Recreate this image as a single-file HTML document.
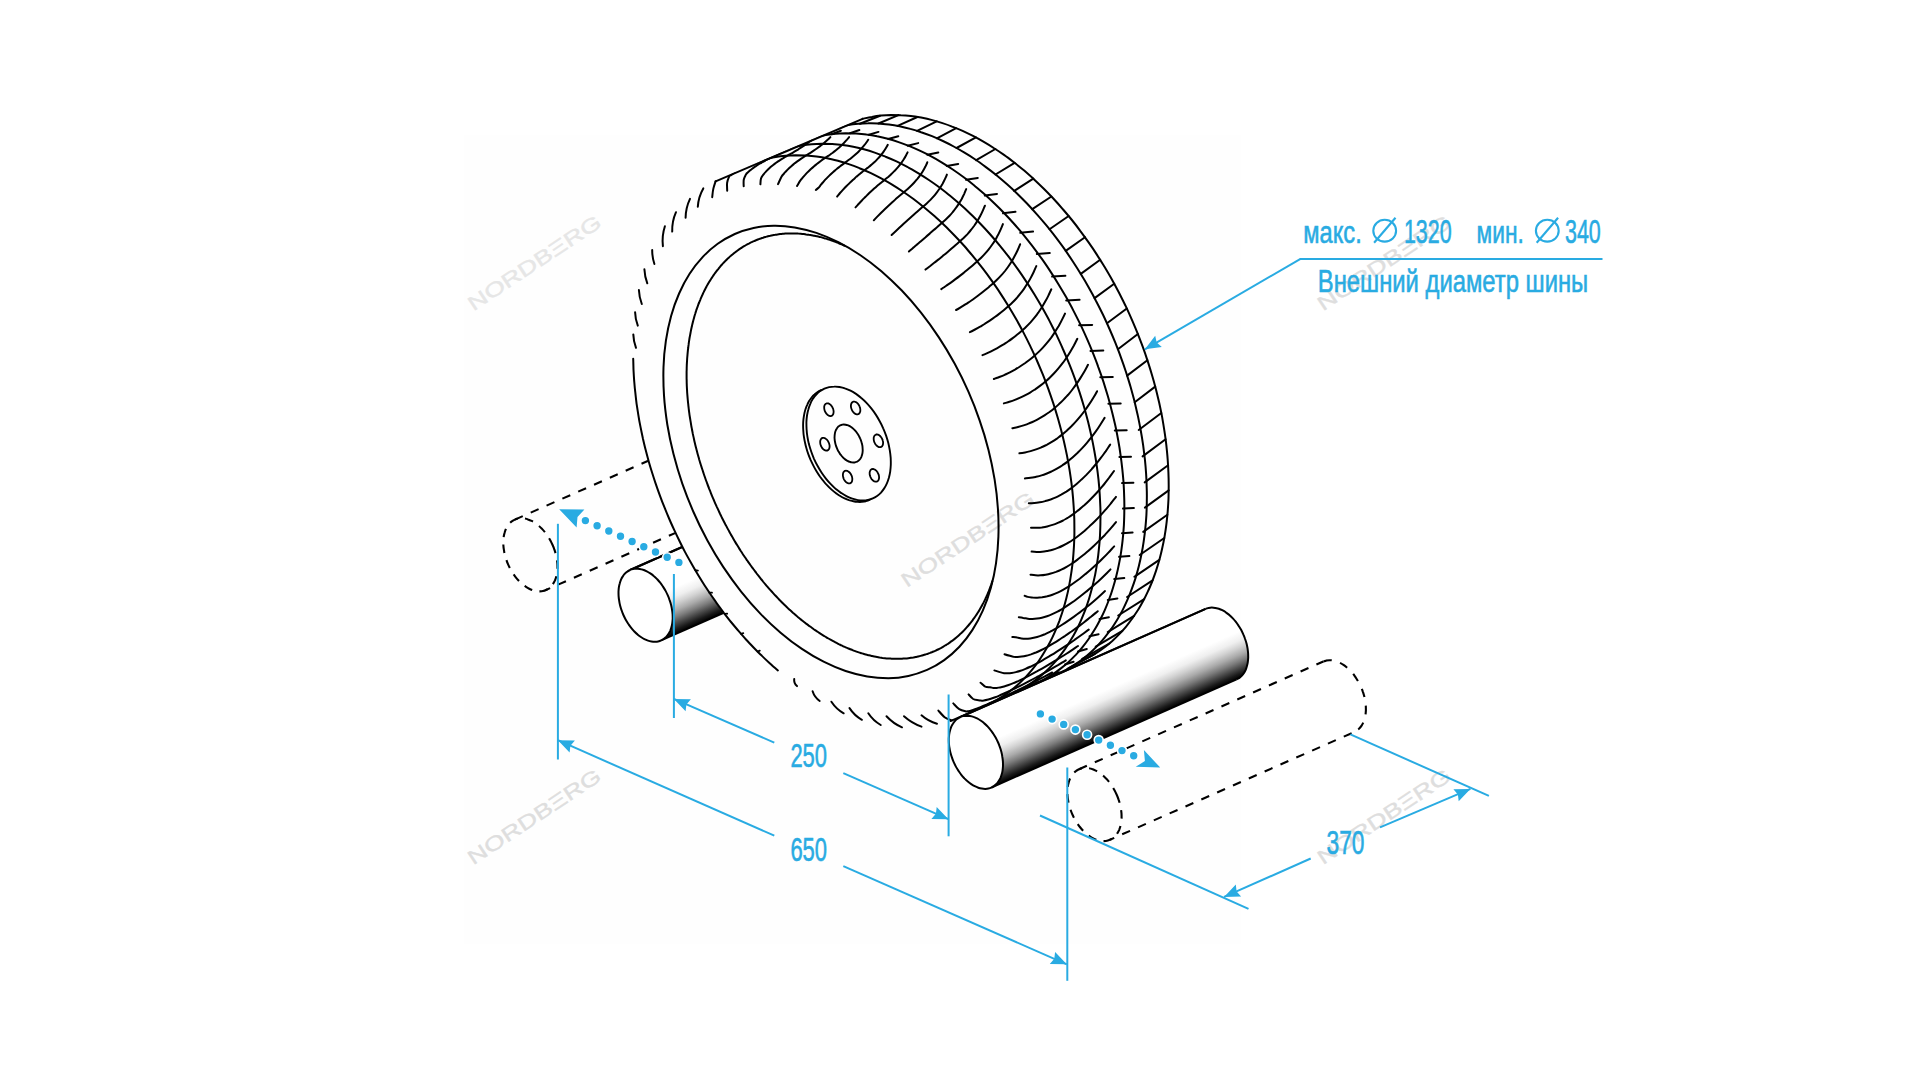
<!DOCTYPE html>
<html><head><meta charset="utf-8"><title>diagram</title>
<style>html,body{margin:0;padding:0;background:#fff;overflow:hidden;width:1920px;height:1080px;}svg{display:block;}</style></head>
<body>
<svg width="1920" height="1080" viewBox="0 0 1920 1080">
<rect width="1920" height="1080" fill="#fff"/>
<rect x="464" y="135" width="777" height="809" fill="#fefefe"/>
<defs><clipPath id="cpT"><path d="M0 484.6 L1920 -331.4 L1920 1080 L0 1080Z"/></clipPath></defs>
<path d="M514.9 519.6 L688.7 442.9" fill="none" stroke="#000" stroke-width="2.1" stroke-dasharray="8.6 8.7"/>
<path d="M545.9 590.0 L719.8 513.4" fill="none" stroke="#000" stroke-width="2.1" stroke-dasharray="8.6 8.7" stroke-dashoffset="4"/>
<path d="M552.6 545.0 C553.3 546.5 553.9 548.1 554.4 549.7 C555.0 551.3 555.5 552.9 555.9 554.5 C556.3 556.1 556.6 557.7 556.8 559.2 C557.1 560.8 557.3 562.4 557.4 563.9 C557.5 565.5 557.5 567.0 557.5 568.5 C557.4 570.0 557.3 571.4 557.1 572.8 C556.9 574.2 556.6 575.5 556.2 576.8 C555.9 578.1 555.4 579.3 555.0 580.4 C554.5 581.5 553.9 582.6 553.2 583.6 C552.6 584.6 551.9 585.5 551.2 586.3 C550.4 587.1 549.6 587.8 548.7 588.4 C547.8 589.1 546.9 589.6 545.9 590.0 C545.0 590.5 544.0 590.8 542.9 591.0 C541.9 591.2 540.8 591.3 539.7 591.4 C538.6 591.4 537.4 591.3 536.3 591.1 C535.1 590.9 533.9 590.6 532.8 590.2 C531.6 589.8 530.4 589.3 529.2 588.7 C528.0 588.1 526.9 587.4 525.7 586.6 C524.5 585.8 523.4 585.0 522.3 584.0 C521.1 583.1 520.0 582.0 518.9 580.9 C517.9 579.8 516.8 578.6 515.8 577.3 C514.8 576.1 513.9 574.7 513.0 573.4 C512.1 572.0 511.2 570.6 510.4 569.1 C509.6 567.6 508.9 566.1 508.2 564.6 C507.5 563.1 506.9 561.5 506.4 559.9 C505.8 558.3 505.3 556.7 504.9 555.1 C504.5 553.5 504.2 551.9 504.0 550.4 C503.7 548.8 503.5 547.2 503.4 545.7 C503.3 544.1 503.3 542.6 503.3 541.1 C503.4 539.6 503.5 538.2 503.7 536.8 C503.9 535.4 504.2 534.1 504.6 532.8 C504.9 531.5 505.4 530.3 505.8 529.2 C506.3 528.1 506.9 527.0 507.6 526.0 C508.2 525.0 508.9 524.1 509.6 523.3 C510.4 522.5 511.2 521.8 512.1 521.2 C513.0 520.5 513.9 520.0 514.9 519.6 C515.8 519.1 516.8 518.8 517.9 518.6 C518.9 518.4 520.0 518.3 521.1 518.2 C522.2 518.2 523.4 518.3 524.5 518.5 C525.7 518.7 526.9 519.0 528.0 519.4 C529.2 519.8 530.4 520.3 531.6 520.9 C532.8 521.5 533.9 522.2 535.1 523.0 C536.3 523.8 537.4 524.6 538.5 525.6 C539.7 526.5 540.8 527.6 541.9 528.7 C542.9 529.8 544.0 531.0 545.0 532.3 C546.0 533.5 546.9 534.9 547.8 536.2 C548.7 537.6 549.6 539.0 550.4 540.5 C551.2 542.0 551.9 543.5 552.6 545.0Z" fill="none" stroke="#000" stroke-width="2.1" stroke-dasharray="8.6 7.4"/>
<linearGradient id="gL" gradientUnits="userSpaceOnUse" x1="630.1" y1="570.0" x2="661.1" y2="640.4">
<stop offset="0" stop-color="#fff"/><stop offset="0.44" stop-color="#fff"/><stop offset="0.55" stop-color="#efefef"/><stop offset="0.63" stop-color="#d2d2d2"/><stop offset="0.72" stop-color="#aaaaaa"/><stop offset="0.8" stop-color="#7c7c7c"/><stop offset="0.88" stop-color="#464646"/><stop offset="0.95" stop-color="#181818"/><stop offset="1" stop-color="#000"/></linearGradient>
<path d="M630.1 570.0 L767.3 509.4 L770.3 508.5 L773.6 508.1 L777.0 508.4 L780.5 509.3 L784.0 510.8 L787.6 512.8 L791.0 515.5 L794.3 518.6 L797.4 522.1 L800.3 526.1 L802.8 530.4 L805.0 534.9 L806.9 539.6 L808.3 544.3 L809.3 549.1 L809.8 553.8 L809.9 558.3 L809.5 562.7 L808.7 566.7 L807.4 570.3 L805.7 573.5 L803.6 576.2 L801.1 578.3 L798.4 579.9 L661.1 640.4Z" fill="url(#gL)" stroke="none" stroke-width="2.0" />
<path d="M630.1 570.0 L767.3 509.4" fill="none" stroke="#000" stroke-width="2.0" />
<path d="M630.1 570.0 L767.3 509.4" fill="none" stroke="#000" stroke-width="2.0" />
<path d="M767.3 509.4 C767.8 509.3 769.3 508.7 770.3 508.5 C771.4 508.2 772.5 508.1 773.6 508.1 C774.7 508.1 775.8 508.2 777.0 508.4 C778.1 508.6 779.3 508.9 780.5 509.3 C781.7 509.7 782.9 510.2 784.0 510.8 C785.2 511.4 786.4 512.1 787.6 512.8 C788.7 513.6 789.9 514.5 791.0 515.5 C792.1 516.4 793.2 517.5 794.3 518.6 C795.4 519.7 796.4 520.9 797.4 522.1 C798.4 523.4 799.4 524.7 800.3 526.1 C801.2 527.5 802.0 528.9 802.8 530.4 C803.6 531.8 804.4 533.3 805.0 534.9 C805.7 536.4 806.3 538.0 806.9 539.6 C807.4 541.1 807.9 542.7 808.3 544.3 C808.7 545.9 809.0 547.5 809.3 549.1 C809.5 550.7 809.7 552.3 809.8 553.8 C809.9 555.3 810.0 556.9 809.9 558.3 C809.9 559.8 809.7 561.3 809.5 562.7 C809.3 564.0 809.0 565.4 808.7 566.7 C808.3 567.9 807.9 569.1 807.4 570.3 C806.9 571.4 806.3 572.5 805.7 573.5 C805.1 574.4 804.4 575.4 803.6 576.2 C802.8 577.0 802.0 577.7 801.1 578.3 C800.3 578.9 798.8 579.6 798.4 579.9" fill="none" stroke="#000" stroke-width="2.0" />
<path d="M798.4 579.9 L661.1 640.4" fill="none" stroke="#000" stroke-width="2.0" />
<path d="M667.8 595.4 C668.5 596.9 669.1 598.5 669.6 600.1 C670.2 601.7 670.7 603.3 671.1 604.9 C671.5 606.5 671.8 608.1 672.0 609.6 C672.3 611.2 672.5 612.8 672.6 614.3 C672.7 615.9 672.7 617.4 672.7 618.9 C672.6 620.4 672.5 621.8 672.3 623.2 C672.1 624.6 671.8 625.9 671.4 627.2 C671.1 628.5 670.6 629.7 670.2 630.8 C669.7 631.9 669.1 633.0 668.4 634.0 C667.8 635.0 667.1 635.9 666.4 636.7 C665.6 637.5 664.8 638.2 663.9 638.8 C663.0 639.5 662.1 640.0 661.1 640.4 C660.2 640.9 659.2 641.2 658.1 641.4 C657.1 641.6 656.0 641.7 654.9 641.8 C653.8 641.8 652.6 641.7 651.5 641.5 C650.3 641.3 649.1 641.0 648.0 640.6 C646.8 640.2 645.6 639.7 644.4 639.1 C643.2 638.5 642.1 637.8 640.9 637.0 C639.7 636.2 638.6 635.4 637.5 634.4 C636.3 633.5 635.2 632.4 634.1 631.3 C633.1 630.2 632.0 629.0 631.0 627.7 C630.0 626.5 629.1 625.1 628.2 623.8 C627.3 622.4 626.4 621.0 625.6 619.5 C624.8 618.0 624.1 616.5 623.4 615.0 C622.7 613.5 622.1 611.9 621.6 610.3 C621.0 608.7 620.5 607.1 620.1 605.5 C619.7 603.9 619.4 602.3 619.2 600.8 C618.9 599.2 618.7 597.6 618.6 596.1 C618.5 594.5 618.5 593.0 618.5 591.5 C618.6 590.0 618.7 588.6 618.9 587.2 C619.1 585.8 619.4 584.5 619.8 583.2 C620.1 581.9 620.6 580.7 621.0 579.6 C621.5 578.5 622.1 577.4 622.8 576.4 C623.4 575.4 624.1 574.5 624.8 573.7 C625.6 572.9 626.4 572.2 627.3 571.6 C628.2 570.9 629.1 570.4 630.1 570.0 C631.0 569.5 632.0 569.2 633.1 569.0 C634.1 568.8 635.2 568.7 636.3 568.6 C637.4 568.6 638.6 568.7 639.7 568.9 C640.9 569.1 642.1 569.4 643.2 569.8 C644.4 570.2 645.6 570.7 646.8 571.3 C648.0 571.9 649.1 572.6 650.3 573.4 C651.5 574.2 652.6 575.0 653.7 576.0 C654.9 576.9 656.0 578.0 657.1 579.1 C658.1 580.2 659.2 581.4 660.2 582.7 C661.2 583.9 662.1 585.3 663.0 586.6 C663.9 588.0 664.8 589.4 665.6 590.9 C666.4 592.4 667.1 593.9 667.8 595.4Z" fill="#fff" stroke="#000" stroke-width="2.0" />
<path d="M959.2 717.3 L950.1 720.8 L940.8 723.6 L931.1 725.7 L921.2 727.0 L911.1 727.5 L900.8 727.2 L890.3 726.2 L879.7 724.4 L869.0 721.9 L858.2 718.6 L847.3 714.6 L836.5 709.8 L825.6 704.3 L814.8 698.1 L804.0 691.2 L793.4 683.7 L782.9 675.5 L772.5 666.6 L762.3 657.2 L752.3 647.2 L742.6 636.7 L733.2 625.6 L724.0 614.0 L715.1 602.0 L706.6 589.6 L698.5 576.8 L690.7 563.6 L683.4 550.1 L676.5 536.3 L670.0 522.3 L664.0 508.0 L658.5 493.6 L653.5 479.1 L649.0 464.5 L645.0 449.8 L641.5 435.1 L638.6 420.5 L636.3 405.9 L634.5 391.5 L633.2 377.2 L632.6 363.1 L632.5 349.2 L633.0 335.6 L634.0 322.3 L635.6 309.3 L637.8 296.8 L640.5 284.6 L643.8 272.9 L647.6 261.6 L651.9 250.9 L656.8 240.7 L662.1 231.1 L668.0 222.0 L674.3 213.6 L681.1 205.8 L688.3 198.7 L695.9 192.3 L703.9 186.5 L712.3 181.5 L721.0 177.2 L844.3 125.2 L853.3 121.6 L862.6 118.8 L872.2 116.8 L882.0 115.5 L892.0 115.0 L902.3 115.3 L912.7 116.3 L923.2 118.0 L933.9 120.6 L944.6 123.8 L955.4 127.8 L966.2 132.6 L976.9 138.0 L987.7 144.2 L998.4 151.0 L1008.9 158.5 L1019.4 166.6 L1029.7 175.4 L1039.8 184.8 L1049.7 194.7 L1059.3 205.2 L1068.7 216.1 L1077.8 227.6 L1086.6 239.5 L1095.1 251.9 L1103.2 264.6 L1110.9 277.7 L1118.1 291.1 L1125.0 304.8 L1131.4 318.7 L1137.4 332.9 L1142.9 347.2 L1147.9 361.6 L1152.3 376.1 L1156.3 390.7 L1159.7 405.2 L1162.6 419.8 L1164.9 434.2 L1166.7 448.6 L1167.9 462.8 L1168.6 476.8 L1168.7 490.5 L1168.2 504.1 L1167.2 517.3 L1165.6 530.1 L1163.4 542.6 L1160.7 554.7 L1157.5 566.3 L1153.7 577.5 L1149.4 588.2 L1144.6 598.3 L1139.3 607.8 L1133.5 616.8 L1127.2 625.2 L1120.5 632.9 L1113.3 640.0 L1105.7 646.4 L1097.8 652.1 L1089.5 657.1 L1080.8 661.3Z" fill="#fefefe" stroke="none" stroke-width="2.0" />
<text transform="translate(473.4 311.6) rotate(-33.6)" x="0" y="0" font-family="Liberation Sans, sans-serif" font-size="20" fill="#e6e6e6" stroke="#e6e6e6" stroke-width="0.4" textLength="155.5" lengthAdjust="spacingAndGlyphs">NORDBΞRG</text>
<text transform="translate(906.8 588.1) rotate(-33.6)" x="0" y="0" font-family="Liberation Sans, sans-serif" font-size="20" fill="#dedede" stroke="#dedede" stroke-width="0.4" textLength="155.5" lengthAdjust="spacingAndGlyphs">NORDBΞRG</text>
<text transform="translate(473.2 865.5) rotate(-33.6)" x="0" y="0" font-family="Liberation Sans, sans-serif" font-size="20" fill="#dedede" stroke="#dedede" stroke-width="0.4" textLength="155.5" lengthAdjust="spacingAndGlyphs">NORDBΞRG</text>
<text transform="translate(1322.9 311.6) rotate(-33.6)" x="0" y="0" font-family="Liberation Sans, sans-serif" font-size="20" fill="#dedede" stroke="#dedede" stroke-width="0.4" textLength="155.5" lengthAdjust="spacingAndGlyphs">NORDBΞRG</text>
<text transform="translate(1322.9 865.3) rotate(-33.6)" x="0" y="0" font-family="Liberation Sans, sans-serif" font-size="20" fill="#dedede" stroke="#dedede" stroke-width="0.4" textLength="155.5" lengthAdjust="spacingAndGlyphs">NORDBΞRG</text>
<path d="M715.6 181.3 L862.6 118.8" fill="none" stroke="#000" stroke-width="2.0" stroke-linecap="round" />
<path d="M862.6 118.8 C864.1 118.5 868.7 117.4 871.9 116.9 C875.0 116.3 878.1 115.9 881.3 115.6 C884.5 115.3 887.8 115.1 891.0 115.0 C894.3 115.0 897.6 115.0 900.9 115.2 C904.2 115.3 907.6 115.6 910.9 116.0 C914.3 116.4 917.7 117.0 921.1 117.6 C924.5 118.3 927.9 119.0 931.4 119.9 C934.8 120.8 938.3 121.8 941.7 122.9 C945.2 124.0 948.7 125.2 952.1 126.6 C955.6 127.9 959.1 129.3 962.6 130.9 C966.0 132.5 969.5 134.2 973.0 135.9 C976.5 137.7 979.9 139.6 983.4 141.6 C986.9 143.6 990.3 145.7 993.7 148.0 C997.2 150.2 1000.6 152.5 1004.0 154.9 C1007.4 157.3 1010.8 159.9 1014.2 162.5 C1017.5 165.1 1020.9 167.8 1024.2 170.6 C1027.5 173.5 1030.8 176.4 1034.1 179.4 C1037.3 182.4 1040.6 185.5 1043.8 188.7 C1047.0 191.8 1050.1 195.1 1053.3 198.5 C1056.4 201.8 1059.5 205.3 1062.5 208.8 C1065.5 212.3 1068.6 215.9 1071.5 219.5 C1074.5 223.2 1077.4 226.9 1080.2 230.8 C1083.1 234.6 1085.9 238.5 1088.6 242.4 C1091.4 246.3 1094.1 250.3 1096.7 254.4 C1099.4 258.5 1101.9 262.6 1104.5 266.8 C1107.0 271.0 1109.5 275.2 1111.9 279.5 C1114.3 283.8 1116.6 288.1 1118.9 292.5 C1121.1 296.9 1123.3 301.3 1125.5 305.7 C1127.6 310.2 1129.7 314.7 1131.6 319.2 C1133.6 323.7 1135.5 328.3 1137.4 332.9 C1139.2 337.5 1141.0 342.1 1142.7 346.7 C1144.4 351.3 1146.0 356.0 1147.5 360.6 C1149.1 365.3 1150.5 370.0 1151.9 374.7 C1153.3 379.3 1154.6 384.0 1155.8 388.7 C1157.0 393.4 1158.1 398.1 1159.2 402.8 C1160.2 407.5 1161.2 412.2 1162.1 416.9 C1162.9 421.5 1163.7 426.2 1164.4 430.9 C1165.1 435.5 1165.8 440.1 1166.3 444.8 C1166.8 449.4 1167.3 454.0 1167.6 458.5 C1168.0 463.1 1168.2 467.6 1168.4 472.1 C1168.6 476.6 1168.7 481.1 1168.7 485.5 C1168.7 490.0 1168.6 494.3 1168.5 498.7 C1168.3 503.0 1168.0 507.3 1167.7 511.6 C1167.3 515.8 1166.9 520.0 1166.4 524.2 C1165.9 528.3 1165.3 532.4 1164.6 536.4 C1163.9 540.4 1163.1 544.4 1162.2 548.3 C1161.4 552.2 1160.4 556.0 1159.4 559.8 C1158.3 563.6 1157.2 567.2 1156.0 570.9 C1154.8 574.5 1153.5 578.0 1152.2 581.5 C1150.8 584.9 1149.4 588.3 1147.8 591.6 C1146.3 594.9 1144.7 598.1 1143.0 601.2 C1141.3 604.3 1139.6 607.4 1137.8 610.3 C1135.9 613.2 1134.0 616.1 1132.0 618.8 C1130.1 621.6 1128.0 624.2 1125.9 626.8 C1123.8 629.3 1121.6 631.8 1119.3 634.1 C1117.0 636.5 1114.7 638.7 1112.3 640.9 C1109.9 643.0 1107.5 645.0 1105.0 647.0 C1102.5 648.9 1099.9 650.7 1097.2 652.4 C1094.6 654.1 1091.9 655.7 1089.2 657.2 C1086.4 658.7 1082.2 660.6 1080.8 661.3" fill="none" stroke="#000" stroke-width="2.0" stroke-linecap="round" />
<path d="M820.1 133.5 C821.6 132.9 826.1 131.0 829.2 129.9 C832.3 128.9 835.4 127.9 838.6 127.1 C841.7 126.3 844.9 125.6 848.2 125.1 C851.5 124.5 854.8 124.1 858.1 123.8 C861.4 123.5 864.8 123.3 868.2 123.3 C871.6 123.2 875.0 123.3 878.5 123.5 C882.0 123.7 885.5 124.1 889.0 124.5 C892.5 125.0 896.0 125.6 899.6 126.3 C903.2 127.1 906.7 127.9 910.3 128.9 C913.9 129.8 917.5 130.9 921.1 132.2 C924.7 133.4 928.4 134.7 932.0 136.2 C935.6 137.7 939.2 139.3 942.9 141.0 C946.5 142.7 950.1 144.5 953.7 146.5 C957.3 148.4 960.9 150.5 964.5 152.7 C968.1 154.8 971.7 157.1 975.3 159.5 C978.9 161.9 982.4 164.5 985.9 167.1 C989.5 169.7 993.0 172.4 996.5 175.3 C999.9 178.1 1003.4 181.1 1006.8 184.1 C1010.3 187.2 1013.7 190.3 1017.0 193.5 C1020.4 196.8 1023.7 200.1 1027.0 203.5 C1030.3 207.0 1033.5 210.5 1036.7 214.1 C1039.9 217.7 1043.1 221.4 1046.2 225.2 C1049.3 228.9 1052.3 232.8 1055.3 236.7 C1058.3 240.6 1061.3 244.7 1064.2 248.7 C1067.1 252.8 1069.9 257.0 1072.7 261.2 C1075.5 265.4 1078.2 269.7 1080.8 274.0 C1083.5 278.3 1086.1 282.7 1088.6 287.2 C1091.1 291.6 1093.6 296.1 1095.9 300.7 C1098.3 305.2 1100.6 309.8 1102.9 314.5 C1105.1 319.1 1107.2 323.8 1109.3 328.5 C1111.4 333.2 1113.4 338.0 1115.3 342.7 C1117.2 347.5 1119.1 352.3 1120.8 357.1 C1122.6 362.0 1124.3 366.8 1125.9 371.7 C1127.4 376.5 1129.0 381.4 1130.4 386.3 C1131.8 391.2 1133.1 396.1 1134.4 400.9 C1135.6 405.8 1136.7 410.7 1137.8 415.6 C1138.9 420.5 1139.8 425.4 1140.7 430.2 C1141.6 435.1 1142.4 440.0 1143.1 444.8 C1143.7 449.6 1144.3 454.5 1144.9 459.3 C1145.4 464.1 1145.8 468.8 1146.1 473.6 C1146.4 478.3 1146.6 483.0 1146.7 487.7 C1146.9 492.3 1146.9 497.0 1146.8 501.5 C1146.8 506.1 1146.6 510.7 1146.4 515.1 C1146.1 519.6 1145.8 524.1 1145.3 528.4 C1144.9 532.8 1144.3 537.2 1143.7 541.4 C1143.1 545.7 1142.4 549.9 1141.5 554.0 C1140.7 558.1 1139.8 562.2 1138.8 566.2 C1137.8 570.1 1136.7 574.1 1135.6 577.9 C1134.4 581.7 1133.1 585.5 1131.7 589.1 C1130.4 592.8 1128.9 596.4 1127.4 599.9 C1125.9 603.3 1124.3 606.8 1122.6 610.1 C1120.9 613.4 1119.1 616.6 1117.2 619.7 C1115.3 622.8 1113.4 625.8 1111.4 628.7 C1109.3 631.6 1107.2 634.4 1105.0 637.1 C1102.9 639.8 1100.6 642.4 1098.3 644.9 C1095.9 647.4 1093.5 649.8 1091.1 652.0 C1088.6 654.3 1086.1 656.5 1083.4 658.5 C1080.8 660.5 1078.2 662.4 1075.4 664.2 C1072.7 666.0 1069.9 667.7 1067.0 669.3 C1064.2 670.8 1059.8 672.8 1058.3 673.5" fill="none" stroke="#000" stroke-width="2.0" stroke-linecap="round" clip-path="url(#cpT)"/>
<path d="M797.6 143.4 C799.1 142.8 803.6 140.9 806.7 139.9 C809.7 138.8 812.9 137.9 816.0 137.1 C819.2 136.3 822.4 135.6 825.7 135.0 C828.9 134.5 832.2 134.0 835.6 133.7 C838.9 133.4 842.3 133.3 845.7 133.2 C849.1 133.2 852.5 133.3 856.0 133.5 C859.5 133.7 863.0 134.0 866.5 134.5 C870.0 134.9 873.5 135.5 877.1 136.3 C880.7 137.0 884.2 137.8 887.8 138.8 C891.4 139.8 895.0 140.9 898.6 142.1 C902.2 143.3 905.9 144.7 909.5 146.1 C913.1 147.6 916.7 149.2 920.3 150.9 C924.0 152.6 927.6 154.4 931.2 156.4 C934.8 158.3 938.4 160.4 942.0 162.6 C945.6 164.8 949.2 167.1 952.8 169.5 C956.3 171.9 959.9 174.4 963.4 177.0 C967.0 179.6 970.5 182.4 974.0 185.2 C977.4 188.1 980.9 191.0 984.3 194.0 C987.8 197.1 991.1 200.2 994.5 203.5 C997.9 206.7 1001.2 210.0 1004.5 213.5 C1007.8 216.9 1011.0 220.4 1014.2 224.0 C1017.4 227.6 1020.6 231.3 1023.7 235.1 C1026.8 238.9 1029.8 242.7 1032.8 246.6 C1035.8 250.6 1038.8 254.6 1041.7 258.7 C1044.6 262.7 1047.4 266.9 1050.2 271.1 C1053.0 275.3 1055.7 279.6 1058.3 283.9 C1061.0 288.3 1063.6 292.7 1066.1 297.1 C1068.6 301.6 1071.1 306.1 1073.4 310.6 C1075.8 315.2 1078.1 319.8 1080.4 324.4 C1082.6 329.0 1084.7 333.7 1086.8 338.4 C1088.9 343.1 1090.9 347.9 1092.8 352.7 C1094.7 357.4 1096.6 362.2 1098.3 367.1 C1100.1 371.9 1101.8 376.7 1103.4 381.6 C1104.9 386.4 1106.4 391.3 1107.9 396.2 C1109.3 401.1 1110.6 406.0 1111.8 410.9 C1113.1 415.8 1114.2 420.7 1115.3 425.5 C1116.4 430.4 1117.3 435.3 1118.2 440.2 C1119.1 445.0 1119.9 449.9 1120.5 454.7 C1121.2 459.6 1121.8 464.4 1122.3 469.2 C1122.8 474.0 1123.3 478.8 1123.6 483.5 C1123.9 488.2 1124.1 492.9 1124.2 497.6 C1124.4 502.3 1124.4 506.9 1124.3 511.5 C1124.3 516.0 1124.1 520.6 1123.9 525.1 C1123.6 529.6 1123.3 534.0 1122.8 538.4 C1122.4 542.8 1121.8 547.1 1121.2 551.3 C1120.6 555.6 1119.9 559.8 1119.0 563.9 C1118.2 568.0 1117.3 572.1 1116.3 576.1 C1115.3 580.1 1114.2 584.0 1113.0 587.8 C1111.9 591.6 1110.6 595.4 1109.2 599.0 C1107.9 602.7 1106.4 606.3 1104.9 609.8 C1103.4 613.3 1101.7 616.7 1100.0 620.0 C1098.3 623.3 1096.6 626.5 1094.7 629.6 C1092.8 632.7 1090.9 635.7 1088.8 638.7 C1086.8 641.6 1084.7 644.4 1082.5 647.1 C1080.4 649.8 1078.1 652.4 1075.8 654.9 C1073.4 657.3 1071.0 659.7 1068.6 662.0 C1066.1 664.2 1063.5 666.4 1060.9 668.4 C1058.3 670.4 1055.7 672.4 1052.9 674.2 C1050.2 675.9 1047.4 677.6 1044.5 679.2 C1041.7 680.7 1037.3 682.8 1035.8 683.5" fill="none" stroke="#000" stroke-width="2.0" stroke-linecap="round" clip-path="url(#cpT)"/>
<path d="M773.7 154.0 C775.2 153.4 779.7 151.5 782.8 150.4 C785.9 149.3 789.0 148.4 792.2 147.6 C795.3 146.8 798.5 146.1 801.8 145.6 C805.1 145.0 808.4 144.6 811.7 144.3 C815.0 144.0 818.4 143.8 821.8 143.7 C825.2 143.7 828.7 143.8 832.1 144.0 C835.6 144.2 839.1 144.5 842.6 145.0 C846.1 145.5 849.7 146.1 853.2 146.8 C856.8 147.5 860.4 148.4 863.9 149.3 C867.5 150.3 871.1 151.4 874.7 152.6 C878.3 153.8 882.0 155.2 885.6 156.7 C889.2 158.1 892.8 159.7 896.5 161.4 C900.1 163.1 903.7 165.0 907.3 166.9 C910.9 168.9 914.6 170.9 918.1 173.1 C921.7 175.3 925.3 177.6 928.9 180.0 C932.5 182.4 936.0 184.9 939.6 187.5 C943.1 190.2 946.6 192.9 950.1 195.7 C953.6 198.6 957.0 201.5 960.4 204.6 C963.9 207.6 967.3 210.8 970.6 214.0 C974.0 217.2 977.3 220.6 980.6 224.0 C983.9 227.4 987.1 230.9 990.3 234.5 C993.5 238.1 996.7 241.8 999.8 245.6 C1002.9 249.4 1006.0 253.2 1009.0 257.2 C1012.0 261.1 1014.9 265.1 1017.8 269.2 C1020.7 273.3 1023.5 277.4 1026.3 281.6 C1029.1 285.8 1031.8 290.1 1034.5 294.5 C1037.1 298.8 1039.7 303.2 1042.2 307.6 C1044.7 312.1 1047.2 316.6 1049.6 321.1 C1051.9 325.7 1054.2 330.3 1056.5 334.9 C1058.7 339.6 1060.9 344.2 1062.9 349.0 C1065.0 353.7 1067.0 358.4 1068.9 363.2 C1070.9 368.0 1072.7 372.8 1074.5 377.6 C1076.2 382.4 1077.9 387.3 1079.5 392.1 C1081.1 397.0 1082.6 401.9 1084.0 406.7 C1085.4 411.6 1086.7 416.5 1088.0 421.4 C1089.2 426.3 1090.4 431.2 1091.4 436.1 C1092.5 441.0 1093.4 445.8 1094.3 450.7 C1095.2 455.6 1096.0 460.4 1096.7 465.3 C1097.4 470.1 1098.0 474.9 1098.5 479.7 C1099.0 484.5 1099.4 489.3 1099.7 494.0 C1100.0 498.8 1100.2 503.5 1100.4 508.1 C1100.5 512.8 1100.5 517.4 1100.4 522.0 C1100.4 526.6 1100.2 531.1 1100.0 535.6 C1099.7 540.1 1099.4 544.5 1098.9 548.9 C1098.5 553.3 1098.0 557.6 1097.3 561.9 C1096.7 566.1 1096.0 570.3 1095.2 574.4 C1094.3 578.6 1093.4 582.6 1092.4 586.6 C1091.4 590.6 1090.3 594.5 1089.2 598.3 C1088.0 602.2 1086.7 605.9 1085.4 609.6 C1084.0 613.2 1082.5 616.8 1081.0 620.3 C1079.5 623.8 1077.9 627.2 1076.2 630.5 C1074.5 633.8 1072.7 637.0 1070.8 640.1 C1068.9 643.3 1067.0 646.3 1065.0 649.2 C1062.9 652.1 1060.8 654.9 1058.7 657.6 C1056.5 660.3 1054.2 662.9 1051.9 665.4 C1049.6 667.9 1047.2 670.2 1044.7 672.5 C1042.2 674.8 1039.7 676.9 1037.1 678.9 C1034.5 681.0 1031.8 682.9 1029.0 684.7 C1026.3 686.5 1023.5 688.2 1020.7 689.7 C1017.8 691.3 1013.4 693.3 1011.9 694.0" fill="none" stroke="#000" stroke-width="2.0" stroke-linecap="round" clip-path="url(#cpT)"/>
<path d="M747.7 165.5 C749.2 164.9 753.6 163.0 756.7 161.9 C759.8 160.8 762.9 159.9 766.1 159.1 C769.3 158.3 772.5 157.6 775.7 157.1 C779.0 156.5 782.3 156.1 785.6 155.8 C789.0 155.5 792.3 155.3 795.7 155.2 C799.1 155.2 802.6 155.3 806.0 155.5 C809.5 155.7 813.0 156.0 816.5 156.5 C820.0 157.0 823.6 157.6 827.1 158.3 C830.7 159.0 834.3 159.9 837.9 160.8 C841.4 161.8 845.1 162.9 848.7 164.1 C852.3 165.3 855.9 166.7 859.5 168.2 C863.1 169.6 866.8 171.2 870.4 172.9 C874.0 174.6 877.6 176.5 881.2 178.4 C884.9 180.4 888.5 182.4 892.1 184.6 C895.7 186.8 899.3 189.1 902.8 191.5 C906.4 193.9 909.9 196.4 913.5 199.0 C917.0 201.7 920.5 204.4 924.0 207.2 C927.5 210.1 930.9 213.0 934.4 216.1 C937.8 219.1 941.2 222.3 944.6 225.5 C947.9 228.7 951.2 232.1 954.5 235.5 C957.8 238.9 961.1 242.4 964.3 246.0 C967.4 249.7 970.6 253.3 973.7 257.1 C976.8 260.9 979.9 264.7 982.9 268.7 C985.9 272.6 988.8 276.6 991.7 280.7 C994.6 284.8 997.5 288.9 1000.2 293.1 C1003.0 297.3 1005.7 301.6 1008.4 306.0 C1011.0 310.3 1013.6 314.7 1016.1 319.1 C1018.7 323.6 1021.1 328.1 1023.5 332.6 C1025.9 337.2 1028.2 341.8 1030.4 346.4 C1032.6 351.1 1034.8 355.7 1036.9 360.5 C1038.9 365.2 1040.9 369.9 1042.9 374.7 C1044.8 379.5 1046.6 384.3 1048.4 389.1 C1050.1 393.9 1051.8 398.8 1053.4 403.6 C1055.0 408.5 1056.5 413.4 1057.9 418.2 C1059.3 423.1 1060.6 428.0 1061.9 432.9 C1063.1 437.8 1064.3 442.7 1065.3 447.6 C1066.4 452.5 1067.4 457.3 1068.2 462.2 C1069.1 467.1 1069.9 471.9 1070.6 476.8 C1071.3 481.6 1071.9 486.4 1072.4 491.2 C1072.9 496.0 1073.3 500.8 1073.6 505.5 C1073.9 510.3 1074.2 515.0 1074.3 519.6 C1074.4 524.3 1074.4 528.9 1074.4 533.5 C1074.3 538.1 1074.2 542.6 1073.9 547.1 C1073.6 551.6 1073.3 556.0 1072.9 560.4 C1072.4 564.8 1071.9 569.1 1071.2 573.4 C1070.6 577.6 1069.9 581.8 1069.1 585.9 C1068.3 590.1 1067.4 594.1 1066.4 598.1 C1065.4 602.1 1064.3 606.0 1063.1 609.8 C1061.9 613.7 1060.6 617.4 1059.3 621.1 C1057.9 624.7 1056.5 628.3 1054.9 631.8 C1053.4 635.3 1051.8 638.7 1050.1 642.0 C1048.4 645.3 1046.6 648.5 1044.7 651.6 C1042.9 654.8 1040.9 657.8 1038.9 660.7 C1036.9 663.6 1034.8 666.4 1032.6 669.1 C1030.4 671.8 1028.1 674.4 1025.8 676.9 C1023.5 679.4 1021.1 681.7 1018.6 684.0 C1016.1 686.3 1013.6 688.4 1011.0 690.4 C1008.4 692.5 1005.7 694.4 1003.0 696.2 C1000.2 698.0 997.4 699.7 994.6 701.2 C991.7 702.8 987.3 704.8 985.8 705.5" fill="none" stroke="#000" stroke-width="2.0" stroke-linecap="round" clip-path="url(#cpT)"/>
<path d="M777.9 670.4 C776.5 669.2 772.4 665.7 769.7 663.2 C767.0 660.7 764.3 658.2 761.7 655.6 C759.0 653.1 756.4 650.4 753.8 647.7 C751.2 645.0 748.6 642.3 746.0 639.5 C743.5 636.7 741.0 633.8 738.5 630.9 C736.0 628.0 733.5 625.0 731.0 622.0 C728.6 619.0 726.2 615.9 723.8 612.8 C721.5 609.6 719.1 606.5 716.8 603.3 C714.5 600.0 712.2 596.8 710.0 593.5 C707.8 590.2 705.6 586.9 703.4 583.5 C701.3 580.1 699.2 576.7 697.1 573.2 C695.0 569.8 693.0 566.3 691.0 562.7 C689.0 559.2 687.0 555.7 685.1 552.1 C683.2 548.5 681.4 544.9 679.6 541.2 C677.8 537.6 676.0 533.9 674.3 530.2 C672.6 526.5 670.9 522.8 669.3 519.0 C667.7 515.3 666.1 511.5 664.6 507.7 C663.1 504.0 661.6 500.2 660.2 496.3 C658.7 492.5 657.4 488.7 656.1 484.9 C654.8 481.0 653.5 477.2 652.3 473.3 C651.1 469.5 649.9 465.6 648.8 461.7 C647.7 457.9 646.7 454.0 645.7 450.1 C644.7 446.3 643.8 442.4 642.9 438.5 C642.1 434.6 641.3 430.8 640.5 426.9 C639.7 423.1 639.0 419.2 638.4 415.3 C637.8 411.5 637.2 407.7 636.6 403.8 C636.1 400.0 635.7 396.2 635.3 392.4 C634.8 388.6 634.5 384.8 634.2 381.1 C633.9 377.3 633.7 373.6 633.5 369.8 C633.4 366.1 633.3 360.6 633.2 358.7" fill="none" stroke="#000" stroke-width="2.0" stroke-linecap="round" />
<path d="M695.3 570.2 L697.9 570.6" fill="none" stroke="#000" stroke-width="1.8" stroke-linecap="round" />
<path d="M709.4 592.7 L712.0 592.7" fill="none" stroke="#000" stroke-width="1.8" stroke-linecap="round" />
<path d="M724.7 613.9 L727.2 613.7" fill="none" stroke="#000" stroke-width="1.8" stroke-linecap="round" />
<path d="M741.0 633.8 L743.3 633.2" fill="none" stroke="#000" stroke-width="1.8" stroke-linecap="round" />
<path d="M757.6 651.6 L759.8 650.7" fill="none" stroke="#000" stroke-width="1.8" stroke-linecap="round" />
<path d="M712.2 197.2 C712.4 195.8 712.7 191.6 713.3 188.9 C713.9 186.2 715.2 182.6 715.6 181.3" fill="none" stroke="#000" stroke-width="2.0" stroke-linecap="round" />
<path d="M703.3 188.4 Q698.4 196.9 697.8 206.7" fill="none" stroke="#000" stroke-width="2.0" stroke-linecap="round" />
<path d="M690.0 198.9 Q685.7 207.9 685.6 217.8" fill="none" stroke="#000" stroke-width="2.0" stroke-linecap="round" />
<path d="M676.0 212.2 Q671.9 221.5 672.2 231.6" fill="none" stroke="#000" stroke-width="2.0" stroke-linecap="round" />
<path d="M664.9 226.2 Q661.7 236.0 662.9 246.2" fill="none" stroke="#000" stroke-width="2.0" stroke-linecap="round" />
<path d="M652.2 250.0 Q652.1 257.2 654.4 264.0" fill="none" stroke="#000" stroke-width="2.0" stroke-linecap="round" />
<path d="M644.4 269.3 Q644.7 276.5 647.3 283.3" fill="none" stroke="#000" stroke-width="2.0" stroke-linecap="round" />
<path d="M638.9 290.0 Q639.2 297.2 641.8 304.0" fill="none" stroke="#000" stroke-width="2.0" stroke-linecap="round" />
<path d="M635.1 312.2 Q635.3 319.1 637.8 325.6" fill="none" stroke="#000" stroke-width="2.0" stroke-linecap="round" />
<path d="M633.3 334.4 Q633.5 341.3 636.0 347.8" fill="none" stroke="#000" stroke-width="2.0" stroke-linecap="round" />
<path d="M794.2 679.0 Q793.7 683.3 797.0 686.1" fill="none" stroke="#000" stroke-width="2.0" stroke-linecap="round" />
<path d="M812.6 691.3 Q814.5 697.3 819.7 701.0" fill="none" stroke="#000" stroke-width="2.0" stroke-linecap="round" />
<path d="M831.4 701.7 Q836.2 709.0 843.7 713.3" fill="none" stroke="#000" stroke-width="2.0" stroke-linecap="round" />
<path d="M849.5 708.1 Q854.3 715.4 861.9 719.8" fill="none" stroke="#000" stroke-width="2.0" stroke-linecap="round" />
<path d="M868.3 713.3 Q873.1 720.6 880.7 725.0" fill="none" stroke="#000" stroke-width="2.0" stroke-linecap="round" />
<path d="M886.5 716.2 Q893.1 723.4 902.0 727.3" fill="none" stroke="#000" stroke-width="2.0" stroke-linecap="round" />
<path d="M904.0 716.2 Q911.7 723.1 921.5 726.6" fill="none" stroke="#000" stroke-width="2.0" stroke-linecap="round" />
<path d="M921.5 715.3 Q928.3 721.3 937.0 723.7" fill="none" stroke="#000" stroke-width="2.0" stroke-linecap="round" />
<path d="M727.2 190.8 C727.2 189.5 726.8 185.2 727.1 182.9 C727.4 180.5 728.5 177.9 729.1 176.6 C729.8 175.3 730.3 175.6 731.0 175.1 C731.7 174.5 732.5 174.0 733.2 173.5 C733.9 173.0 734.9 172.4 735.3 172.2" fill="none" stroke="#000" stroke-width="2.0" stroke-linecap="round" clip-path="url(#cpT)"/>
<path d="M743.7 186.2 C743.7 185.0 743.4 181.4 743.8 179.5 C744.2 177.5 745.4 175.6 746.0 174.4 C746.7 173.2 747.3 173.0 748.0 172.3 C748.7 171.6 749.4 171.0 750.2 170.3 C751.0 169.6 751.8 169.0 752.7 168.3 C753.6 167.7 754.5 167.0 755.5 166.4 C756.4 165.7 757.5 165.1 758.5 164.4 C759.6 163.8 760.7 163.1 761.8 162.5 C762.9 161.8 764.1 161.1 765.3 160.5 C766.6 159.8 767.8 159.1 769.1 158.5 C770.4 157.8 771.8 157.1 773.2 156.4 C774.5 155.8 775.8 155.1 777.0 154.4 C778.3 153.8 779.5 153.1 780.7 152.5 C781.8 151.9 783.4 151.1 784.1 150.7 C784.8 150.3 784.7 150.4 784.8 150.3" fill="none" stroke="#000" stroke-width="2.0" stroke-linecap="round" clip-path="url(#cpT)"/>
<path d="M760.4 184.3 C760.5 183.3 760.5 180.1 761.0 178.5 C761.5 176.8 762.8 175.5 763.6 174.4 C764.4 173.3 764.9 172.7 765.7 171.9 C766.4 171.1 767.2 170.3 768.0 169.5 C768.8 168.7 769.7 167.9 770.6 167.1 C771.5 166.3 772.4 165.6 773.4 164.8 C774.4 164.0 775.4 163.3 776.4 162.5 C777.5 161.8 778.6 161.0 779.7 160.3 C780.9 159.5 782.1 158.8 783.3 158.1 C784.5 157.3 785.8 156.6 787.0 155.8 C788.3 155.1 789.7 154.3 791.0 153.6 C792.3 152.9 793.6 152.1 794.8 151.4 C796.0 150.7 797.2 150.0 798.4 149.3 C799.5 148.5 800.6 147.8 801.7 147.2 C802.7 146.5 803.7 145.8 804.7 145.1 C805.7 144.5 806.6 143.8 807.5 143.2 C808.4 142.5 809.3 141.9 810.1 141.3 C810.9 140.7 812.1 139.9 812.5 139.6" fill="none" stroke="#000" stroke-width="2.0" stroke-linecap="round" clip-path="url(#cpT)"/>
<path d="M778.0 184.1 C778.6 182.9 780.6 178.4 781.6 176.6 C782.6 174.9 783.1 174.7 783.8 173.8 C784.6 172.8 785.5 171.9 786.3 171.0 C787.2 170.1 788.1 169.2 789.0 168.3 C790.0 167.4 790.9 166.6 791.9 165.7 C792.9 164.8 794.0 164.0 795.0 163.1 C796.1 162.3 797.2 161.5 798.4 160.6 C799.5 159.8 800.7 159.0 801.9 158.2 C803.1 157.3 804.4 156.5 805.7 155.7 C806.9 154.9 808.3 154.1 809.6 153.3 C810.9 152.5 812.1 151.7 813.3 150.9 C814.5 150.1 815.7 149.3 816.8 148.5 C817.9 147.7 819.0 146.9 820.1 146.1 C821.1 145.3 822.1 144.6 823.0 143.8 C824.0 143.0 824.9 142.2 825.7 141.5 C826.6 140.7 827.4 140.0 828.2 139.3 C829.0 138.5 830.0 137.5 830.4 137.1" fill="none" stroke="#000" stroke-width="2.0" stroke-linecap="round" clip-path="url(#cpT)"/>
<path d="M797.0 186.0 C797.5 185.2 799.0 182.5 799.9 181.1 C800.8 179.8 801.5 179.0 802.4 178.0 C803.3 176.9 804.1 175.9 805.1 174.9 C806.0 173.9 806.9 172.9 807.9 171.9 C808.9 171.0 809.9 170.0 810.9 169.0 C812.0 168.1 813.0 167.2 814.1 166.2 C815.2 165.3 816.4 164.4 817.5 163.5 C818.7 162.6 819.9 161.7 821.1 160.8 C822.3 159.9 823.6 159.0 824.8 158.2 C826.1 157.3 827.5 156.4 828.7 155.6 C830.0 154.7 831.2 153.8 832.4 153.0 C833.6 152.1 834.8 151.2 835.9 150.3 C837.0 149.4 838.0 148.5 839.0 147.7 C840.1 146.8 841.0 145.9 841.9 145.0 C842.9 144.1 843.7 143.2 844.6 142.3 C845.4 141.5 846.2 140.6 847.0 139.7 C847.7 138.8 848.7 137.6 849.1 137.1" fill="none" stroke="#000" stroke-width="2.0" stroke-linecap="round" clip-path="url(#cpT)"/>
<path d="M815.8 190.0 C816.2 189.7 817.6 188.7 818.5 187.8 C819.4 186.8 820.3 185.5 821.2 184.4 C822.1 183.3 823.1 182.2 824.0 181.1 C825.0 180.0 826.0 179.0 827.1 177.9 C828.1 176.9 829.1 175.8 830.2 174.8 C831.3 173.8 832.4 172.8 833.5 171.8 C834.7 170.8 835.8 169.8 837.0 168.8 C838.2 167.8 839.4 166.9 840.6 165.9 C841.8 165.0 843.1 164.0 844.4 163.1 C845.6 162.2 847.0 161.3 848.2 160.3 C849.5 159.4 850.8 158.5 851.9 157.5 C853.1 156.6 854.3 155.6 855.4 154.6 C856.4 153.7 857.5 152.7 858.5 151.7 C859.5 150.7 860.4 149.7 861.3 148.7 C862.2 147.7 863.1 146.7 863.9 145.7 C864.7 144.7 865.5 143.7 866.2 142.7 C867.0 141.7 867.9 140.2 868.3 139.7" fill="none" stroke="#000" stroke-width="2.0" stroke-linecap="round" clip-path="url(#cpT)"/>
<path d="M837.1 196.6 C837.6 196.0 839.0 194.2 840.0 193.0 C841.0 191.9 842.1 190.7 843.1 189.6 C844.2 188.4 845.2 187.3 846.3 186.2 C847.4 185.1 848.5 184.0 849.7 182.9 C850.8 181.8 851.9 180.8 853.1 179.7 C854.3 178.7 855.4 177.6 856.6 176.6 C857.9 175.6 859.1 174.5 860.3 173.5 C861.6 172.5 862.8 171.5 864.1 170.5 C865.4 169.5 866.7 168.6 868.0 167.6 C869.2 166.6 870.5 165.6 871.7 164.6 C872.8 163.6 874.0 162.5 875.1 161.5 C876.2 160.4 877.2 159.3 878.2 158.3 C879.2 157.2 880.1 156.1 881.0 155.0 C881.9 153.9 882.8 152.8 883.6 151.6 C884.4 150.5 885.1 149.4 885.8 148.2 C886.5 147.1 887.5 145.4 887.8 144.8" fill="none" stroke="#000" stroke-width="2.0" stroke-linecap="round" clip-path="url(#cpT)"/>
<path d="M855.5 207.4 C856.1 206.8 857.7 205.0 858.8 203.8 C859.9 202.6 861.0 201.4 862.1 200.2 C863.3 199.1 864.4 197.9 865.5 196.8 C866.7 195.6 867.9 194.5 869.0 193.3 C870.2 192.2 871.4 191.1 872.6 190.0 C873.8 188.9 875.1 187.8 876.3 186.7 C877.5 185.6 878.8 184.6 880.0 183.5 C881.3 182.5 882.6 181.4 883.9 180.4 C885.2 179.3 886.5 178.3 887.8 177.3 C889.0 176.2 890.3 175.1 891.4 174.0 C892.6 173.0 893.8 171.8 894.8 170.7 C895.9 169.6 897.0 168.4 898.0 167.2 C899.0 166.1 899.9 164.9 900.8 163.7 C901.7 162.4 902.5 161.2 903.3 160.0 C904.1 158.7 904.9 157.5 905.6 156.2 C906.3 154.9 907.3 153.0 907.6 152.4" fill="none" stroke="#000" stroke-width="2.0" stroke-linecap="round" clip-path="url(#cpT)"/>
<path d="M873.8 220.3 C874.3 219.7 876.1 217.8 877.3 216.6 C878.5 215.4 879.7 214.2 880.9 213.0 C882.1 211.8 883.3 210.6 884.5 209.5 C885.8 208.3 887.0 207.1 888.2 206.0 C889.5 204.8 890.7 203.7 892.0 202.5 C893.2 201.4 894.5 200.3 895.7 199.1 C897.0 198.0 898.3 196.9 899.6 195.8 C900.9 194.7 902.2 193.6 903.5 192.5 C904.8 191.4 906.1 190.3 907.4 189.2 C908.7 188.1 909.9 187.0 911.1 185.8 C912.3 184.7 913.4 183.5 914.5 182.3 C915.6 181.1 916.6 179.8 917.6 178.6 C918.6 177.3 919.6 176.0 920.5 174.7 C921.4 173.4 922.3 172.1 923.1 170.7 C923.9 169.3 924.6 168.0 925.4 166.6 C926.1 165.2 927.0 163.1 927.3 162.3" fill="none" stroke="#000" stroke-width="2.0" stroke-linecap="round" clip-path="url(#cpT)"/>
<path d="M891.6 235.0 C892.2 234.4 894.1 232.6 895.4 231.4 C896.7 230.2 898.0 229.0 899.3 227.8 C900.6 226.6 901.9 225.4 903.1 224.2 C904.4 223.0 905.7 221.9 907.0 220.7 C908.3 219.5 909.6 218.4 910.9 217.2 C912.2 216.0 913.5 214.9 914.8 213.7 C916.2 212.6 917.5 211.4 918.8 210.3 C920.1 209.1 921.4 208.0 922.7 206.8 C924.1 205.7 925.4 204.6 926.7 203.4 C928.0 202.3 929.2 201.1 930.4 199.9 C931.6 198.6 932.8 197.4 933.9 196.1 C935.0 194.8 936.0 193.5 937.1 192.1 C938.1 190.8 939.0 189.4 940.0 188.0 C940.9 186.6 941.7 185.2 942.6 183.7 C943.4 182.2 944.2 180.7 944.9 179.2 C945.6 177.7 946.6 175.4 946.9 174.6" fill="none" stroke="#000" stroke-width="2.0" stroke-linecap="round" clip-path="url(#cpT)"/>
<path d="M908.9 251.5 C909.6 250.9 911.6 249.1 913.0 247.9 C914.4 246.8 915.7 245.6 917.1 244.4 C918.5 243.3 919.8 242.1 921.2 240.9 C922.6 239.7 923.9 238.6 925.3 237.4 C926.6 236.2 928.0 235.0 929.4 233.9 C930.7 232.7 932.1 231.5 933.4 230.3 C934.8 229.2 936.1 228.0 937.5 226.8 C938.8 225.6 940.1 224.5 941.5 223.3 C942.8 222.1 944.2 220.9 945.5 219.7 C946.8 218.5 948.1 217.3 949.3 216.0 C950.5 214.7 951.7 213.4 952.8 212.0 C953.9 210.7 955.0 209.3 956.0 207.8 C957.1 206.4 958.0 205.0 959.0 203.5 C959.9 202.0 960.8 200.4 961.7 198.9 C962.5 197.3 963.3 195.7 964.1 194.1 C964.8 192.4 965.8 189.9 966.2 189.1" fill="none" stroke="#000" stroke-width="2.0" stroke-linecap="round" clip-path="url(#cpT)"/>
<path d="M925.5 269.6 C926.2 269.0 928.4 267.3 929.9 266.2 C931.3 265.1 932.8 263.9 934.2 262.8 C935.7 261.7 937.1 260.5 938.6 259.4 C940.0 258.2 941.4 257.1 942.8 255.9 C944.3 254.7 945.7 253.6 947.1 252.4 C948.5 251.2 949.9 250.0 951.3 248.8 C952.7 247.6 954.1 246.4 955.4 245.2 C956.8 244.0 958.2 242.8 959.6 241.6 C960.9 240.4 962.3 239.2 963.6 238.0 C964.9 236.7 966.2 235.4 967.5 234.1 C968.7 232.7 969.9 231.4 971.0 229.9 C972.2 228.5 973.3 227.0 974.4 225.5 C975.4 224.0 976.4 222.5 977.4 220.9 C978.4 219.3 979.3 217.7 980.2 216.0 C981.1 214.4 981.9 212.7 982.7 210.9 C983.5 209.2 984.5 206.5 984.9 205.7" fill="none" stroke="#000" stroke-width="2.0" stroke-linecap="round" clip-path="url(#cpT)"/>
<path d="M941.3 289.1 C942.0 288.6 944.4 287.0 945.9 286.0 C947.5 284.9 949.0 283.8 950.5 282.8 C952.1 281.7 953.6 280.6 955.1 279.4 C956.6 278.3 958.1 277.2 959.5 276.1 C961.0 274.9 962.5 273.8 964.0 272.6 C965.4 271.4 966.9 270.2 968.3 269.0 C969.7 267.8 971.2 266.6 972.6 265.4 C974.0 264.2 975.4 263.0 976.8 261.7 C978.2 260.5 979.6 259.3 980.9 258.0 C982.2 256.7 983.6 255.3 984.8 253.9 C986.1 252.5 987.3 251.1 988.5 249.6 C989.7 248.1 990.8 246.6 991.9 245.0 C993.0 243.5 994.1 241.9 995.1 240.2 C996.1 238.5 997.0 236.8 998.0 235.1 C998.9 233.3 999.8 231.5 1000.6 229.7 C1001.4 227.9 1002.5 225.1 1002.9 224.1" fill="none" stroke="#000" stroke-width="2.0" stroke-linecap="round" clip-path="url(#cpT)"/>
<path d="M956.1 310.0 C956.9 309.6 959.4 308.1 961.0 307.1 C962.6 306.1 964.3 305.1 965.8 304.1 C967.4 303.1 969.0 302.0 970.6 301.0 C972.2 299.9 973.7 298.8 975.2 297.7 C976.8 296.6 978.3 295.5 979.8 294.3 C981.3 293.2 982.8 292.0 984.3 290.8 C985.8 289.6 987.2 288.4 988.7 287.2 C990.1 285.9 991.6 284.7 993.0 283.4 C994.4 282.2 995.8 280.9 997.2 279.5 C998.6 278.2 999.9 276.8 1001.2 275.4 C1002.5 274.0 1003.8 272.5 1005.0 271.0 C1006.2 269.4 1007.4 267.8 1008.5 266.2 C1009.6 264.6 1010.7 262.9 1011.8 261.2 C1012.8 259.4 1013.9 257.6 1014.8 255.8 C1015.8 254.0 1016.7 252.1 1017.6 250.2 C1018.5 248.3 1019.7 245.3 1020.1 244.3" fill="none" stroke="#000" stroke-width="2.0" stroke-linecap="round" clip-path="url(#cpT)"/>
<path d="M969.9 332.1 C970.8 331.7 973.3 330.4 975.0 329.5 C976.7 328.6 978.4 327.7 980.1 326.7 C981.7 325.7 983.4 324.8 985.0 323.7 C986.6 322.7 988.2 321.7 989.8 320.6 C991.4 319.6 993.0 318.5 994.5 317.3 C996.1 316.2 997.6 315.1 999.1 313.9 C1000.7 312.7 1002.2 311.5 1003.7 310.3 C1005.1 309.0 1006.6 307.8 1008.1 306.5 C1009.5 305.2 1011.0 303.9 1012.4 302.5 C1013.8 301.2 1015.1 299.8 1016.5 298.3 C1017.8 296.8 1019.1 295.3 1020.3 293.7 C1021.6 292.1 1022.8 290.5 1024.0 288.8 C1025.2 287.1 1026.3 285.4 1027.4 283.6 C1028.5 281.8 1029.6 280.0 1030.6 278.1 C1031.6 276.2 1032.6 274.2 1033.6 272.2 C1034.5 270.3 1035.8 267.1 1036.3 266.1" fill="none" stroke="#000" stroke-width="2.0" stroke-linecap="round" clip-path="url(#cpT)"/>
<path d="M982.5 355.1 C983.4 354.8 986.1 353.6 987.8 352.8 C989.6 352.0 991.3 351.2 993.0 350.3 C994.7 349.5 996.4 348.5 998.1 347.6 C999.8 346.7 1001.5 345.7 1003.1 344.7 C1004.7 343.6 1006.4 342.6 1008.0 341.5 C1009.6 340.4 1011.1 339.3 1012.7 338.1 C1014.3 337.0 1015.8 335.8 1017.3 334.5 C1018.9 333.3 1020.4 332.0 1021.9 330.7 C1023.3 329.4 1024.8 328.1 1026.2 326.7 C1027.7 325.3 1029.1 323.9 1030.5 322.4 C1031.8 320.9 1033.2 319.3 1034.5 317.7 C1035.8 316.1 1037.0 314.4 1038.3 312.7 C1039.5 310.9 1040.7 309.1 1041.9 307.3 C1043.0 305.5 1044.1 303.6 1045.2 301.6 C1046.3 299.7 1047.4 297.7 1048.4 295.6 C1049.4 293.5 1050.8 290.3 1051.3 289.3" fill="none" stroke="#000" stroke-width="2.0" stroke-linecap="round" clip-path="url(#cpT)"/>
<path d="M993.9 379.0 C994.8 378.6 997.5 377.7 999.3 377.0 C1001.1 376.3 1002.9 375.6 1004.7 374.8 C1006.4 374.0 1008.2 373.2 1009.9 372.3 C1011.6 371.4 1013.3 370.5 1015.0 369.6 C1016.7 368.6 1018.3 367.6 1020.0 366.5 C1021.6 365.5 1023.3 364.4 1024.9 363.3 C1026.5 362.1 1028.0 360.9 1029.6 359.7 C1031.2 358.5 1032.7 357.2 1034.2 355.9 C1035.7 354.6 1037.3 353.3 1038.7 351.9 C1040.2 350.4 1041.6 349.0 1043.1 347.4 C1044.5 345.9 1045.9 344.3 1047.2 342.7 C1048.6 341.0 1049.9 339.3 1051.2 337.6 C1052.4 335.8 1053.7 334.0 1054.9 332.1 C1056.1 330.2 1057.3 328.3 1058.5 326.3 C1059.6 324.3 1060.8 322.2 1061.8 320.1 C1062.9 318.0 1064.5 314.7 1065.0 313.6" fill="none" stroke="#000" stroke-width="2.0" stroke-linecap="round" clip-path="url(#cpT)"/>
<path d="M1003.9 403.4 C1004.8 403.1 1007.6 402.4 1009.4 401.8 C1011.3 401.2 1013.1 400.6 1014.9 399.9 C1016.7 399.2 1018.4 398.5 1020.2 397.7 C1022.0 396.9 1023.7 396.0 1025.4 395.1 C1027.1 394.2 1028.8 393.3 1030.5 392.3 C1032.2 391.3 1033.8 390.2 1035.5 389.1 C1037.1 388.0 1038.7 386.8 1040.3 385.6 C1041.9 384.4 1043.5 383.2 1045.1 381.8 C1046.6 380.5 1048.2 379.2 1049.7 377.7 C1051.2 376.3 1052.7 374.8 1054.1 373.3 C1055.6 371.7 1057.0 370.1 1058.4 368.4 C1059.8 366.8 1061.2 365.0 1062.6 363.2 C1063.9 361.5 1065.2 359.6 1066.5 357.7 C1067.8 355.8 1069.1 353.8 1070.3 351.8 C1071.5 349.7 1072.7 347.6 1073.9 345.5 C1075.0 343.3 1076.7 340.0 1077.3 338.8" fill="none" stroke="#000" stroke-width="2.0" stroke-linecap="round" clip-path="url(#cpT)"/>
<path d="M1012.4 428.2 C1013.3 428.0 1016.2 427.5 1018.0 427.0 C1019.9 426.5 1021.7 426.0 1023.6 425.4 C1025.4 424.8 1027.2 424.2 1029.0 423.4 C1030.7 422.7 1032.5 422.0 1034.3 421.1 C1036.0 420.3 1037.7 419.4 1039.4 418.4 C1041.1 417.5 1042.8 416.5 1044.5 415.4 C1046.2 414.3 1047.8 413.2 1049.5 412.0 C1051.1 410.8 1052.7 409.6 1054.3 408.2 C1055.9 406.9 1057.5 405.6 1059.0 404.1 C1060.6 402.7 1062.1 401.2 1063.6 399.6 C1065.1 398.1 1066.6 396.4 1068.1 394.8 C1069.5 393.1 1071.0 391.3 1072.4 389.5 C1073.8 387.7 1075.2 385.8 1076.5 383.9 C1077.9 382.0 1079.2 380.0 1080.5 377.9 C1081.8 375.8 1083.1 373.7 1084.4 371.5 C1085.6 369.4 1087.4 365.9 1088.0 364.8" fill="none" stroke="#000" stroke-width="2.0" stroke-linecap="round" clip-path="url(#cpT)"/>
<path d="M1019.4 453.3 C1020.4 453.2 1023.2 452.8 1025.1 452.4 C1027.0 452.1 1028.8 451.6 1030.6 451.1 C1032.5 450.6 1034.3 450.1 1036.1 449.4 C1037.9 448.8 1039.7 448.1 1041.4 447.3 C1043.2 446.6 1044.9 445.7 1046.7 444.8 C1048.4 443.9 1050.1 443.0 1051.8 441.9 C1053.5 440.9 1055.2 439.8 1056.9 438.6 C1058.5 437.4 1060.2 436.2 1061.8 434.9 C1063.5 433.6 1065.1 432.2 1066.7 430.8 C1068.3 429.3 1069.8 427.8 1071.4 426.3 C1073.0 424.7 1074.5 423.1 1076.0 421.4 C1077.5 419.7 1079.0 417.9 1080.5 416.1 C1082.0 414.3 1083.5 412.4 1084.9 410.5 C1086.3 408.5 1087.7 406.5 1089.1 404.4 C1090.5 402.4 1091.9 400.2 1093.2 398.0 C1094.6 395.8 1096.5 392.4 1097.1 391.2" fill="none" stroke="#000" stroke-width="2.0" stroke-linecap="round" clip-path="url(#cpT)"/>
<path d="M1024.9 478.4 C1025.9 478.3 1028.7 478.1 1030.5 477.8 C1032.4 477.6 1034.2 477.2 1036.1 476.8 C1037.9 476.4 1039.7 476.0 1041.5 475.4 C1043.3 474.9 1045.1 474.2 1046.9 473.5 C1048.7 472.8 1050.4 472.0 1052.2 471.2 C1053.9 470.4 1055.7 469.4 1057.4 468.4 C1059.1 467.4 1060.8 466.4 1062.5 465.2 C1064.2 464.1 1065.9 462.9 1067.6 461.6 C1069.2 460.3 1070.9 458.9 1072.5 457.5 C1074.2 456.0 1075.8 454.5 1077.4 453.0 C1079.0 451.4 1080.6 449.8 1082.2 448.1 C1083.8 446.4 1085.4 444.6 1086.9 442.8 C1088.5 441.0 1090.0 439.1 1091.5 437.2 C1093.0 435.2 1094.5 433.2 1096.0 431.1 C1097.5 429.1 1098.9 426.9 1100.3 424.7 C1101.8 422.5 1103.9 419.0 1104.6 417.9" fill="none" stroke="#000" stroke-width="2.0" stroke-linecap="round" clip-path="url(#cpT)"/>
<path d="M1028.8 503.2 C1029.7 503.2 1032.5 503.2 1034.3 503.0 C1036.2 502.9 1038.0 502.6 1039.8 502.3 C1041.6 502.0 1043.4 501.6 1045.2 501.1 C1047.0 500.7 1048.8 500.1 1050.6 499.5 C1052.4 498.8 1054.1 498.1 1055.9 497.3 C1057.7 496.5 1059.4 495.6 1061.2 494.7 C1062.9 493.7 1064.6 492.7 1066.4 491.6 C1068.1 490.5 1069.8 489.3 1071.5 488.0 C1073.2 486.7 1074.9 485.3 1076.6 483.9 C1078.3 482.5 1080.0 481.0 1081.6 479.4 C1083.3 477.9 1084.9 476.3 1086.6 474.6 C1088.2 472.9 1089.9 471.2 1091.5 469.4 C1093.1 467.5 1094.7 465.7 1096.3 463.7 C1097.9 461.8 1099.5 459.8 1101.0 457.7 C1102.6 455.7 1104.1 453.5 1105.7 451.4 C1107.2 449.2 1109.4 445.7 1110.2 444.6" fill="none" stroke="#000" stroke-width="2.0" stroke-linecap="round" clip-path="url(#cpT)"/>
<path d="M1031.0 527.7 C1031.9 527.7 1034.6 527.9 1036.4 527.8 C1038.2 527.7 1040.0 527.6 1041.8 527.4 C1043.6 527.1 1045.4 526.8 1047.2 526.4 C1048.9 526.0 1050.7 525.5 1052.5 524.9 C1054.2 524.4 1056.0 523.7 1057.8 522.9 C1059.5 522.2 1061.3 521.4 1063.1 520.5 C1064.8 519.5 1066.6 518.5 1068.3 517.5 C1070.1 516.4 1071.8 515.2 1073.6 513.9 C1075.3 512.7 1077.0 511.3 1078.8 509.9 C1080.5 508.5 1082.2 507.0 1084.0 505.5 C1085.7 504.0 1087.4 502.4 1089.1 500.7 C1090.8 499.0 1092.5 497.3 1094.2 495.5 C1095.9 493.7 1097.6 491.9 1099.3 490.0 C1100.9 488.0 1102.6 486.1 1104.3 484.0 C1105.9 482.0 1107.5 479.9 1109.2 477.7 C1110.8 475.5 1113.2 472.1 1114.0 471.0" fill="none" stroke="#000" stroke-width="2.0" stroke-linecap="round" clip-path="url(#cpT)"/>
<path d="M1031.6 551.6 C1032.4 551.7 1035.1 551.9 1036.8 551.9 C1038.6 552.0 1040.3 551.9 1042.1 551.7 C1043.8 551.6 1045.5 551.3 1047.3 551.0 C1049.0 550.6 1050.8 550.2 1052.6 549.7 C1054.3 549.2 1056.1 548.6 1057.8 547.9 C1059.6 547.2 1061.3 546.4 1063.1 545.5 C1064.9 544.6 1066.7 543.7 1068.4 542.6 C1070.2 541.6 1072.0 540.4 1073.7 539.2 C1075.5 537.9 1077.3 536.6 1079.1 535.2 C1080.9 533.8 1082.6 532.4 1084.4 530.9 C1086.2 529.3 1088.0 527.8 1089.7 526.1 C1091.5 524.5 1093.3 522.8 1095.1 521.0 C1096.8 519.3 1098.6 517.5 1100.3 515.6 C1102.1 513.7 1103.9 511.7 1105.6 509.7 C1107.3 507.7 1109.1 505.7 1110.8 503.5 C1112.5 501.4 1115.1 498.0 1116.0 496.9" fill="none" stroke="#000" stroke-width="2.0" stroke-linecap="round" clip-path="url(#cpT)"/>
<path d="M1030.5 574.7 C1031.3 574.8 1033.8 575.2 1035.5 575.3 C1037.2 575.4 1038.9 575.4 1040.5 575.3 C1042.2 575.2 1043.9 575.0 1045.7 574.7 C1047.4 574.4 1049.1 574.0 1050.8 573.5 C1052.5 573.1 1054.3 572.5 1056.0 571.9 C1057.8 571.2 1059.5 570.5 1061.3 569.6 C1063.1 568.8 1064.9 567.8 1066.6 566.8 C1068.4 565.8 1070.2 564.7 1072.0 563.5 C1073.9 562.3 1075.7 561.0 1077.5 559.6 C1079.3 558.2 1081.2 556.8 1083.0 555.3 C1084.8 553.8 1086.7 552.3 1088.5 550.7 C1090.3 549.1 1092.2 547.4 1094.0 545.7 C1095.9 544.0 1097.7 542.2 1099.5 540.4 C1101.4 538.5 1103.2 536.6 1105.1 534.7 C1106.9 532.7 1108.7 530.7 1110.5 528.6 C1112.4 526.5 1115.1 523.2 1116.0 522.1" fill="none" stroke="#000" stroke-width="2.0" stroke-linecap="round" clip-path="url(#cpT)"/>
<path d="M1024.6 595.8 C1025.1 596.0 1026.4 596.6 1027.7 596.9 C1029.0 597.2 1030.9 597.4 1032.5 597.6 C1034.1 597.7 1035.7 597.8 1037.3 597.7 C1038.9 597.7 1040.6 597.5 1042.2 597.3 C1043.9 597.0 1045.6 596.7 1047.3 596.3 C1049.0 595.8 1050.7 595.3 1052.4 594.7 C1054.1 594.1 1055.9 593.4 1057.6 592.6 C1059.4 591.8 1061.2 590.9 1063.0 589.9 C1064.8 588.9 1066.6 587.8 1068.5 586.6 C1070.3 585.5 1072.2 584.2 1074.1 582.8 C1075.9 581.5 1077.8 580.1 1079.7 578.7 C1081.6 577.2 1083.5 575.7 1085.4 574.1 C1087.3 572.6 1089.2 571.0 1091.1 569.3 C1093.0 567.6 1094.9 565.9 1096.9 564.1 C1098.8 562.3 1100.7 560.5 1102.6 558.5 C1104.6 556.6 1106.5 554.7 1108.4 552.6 C1110.3 550.6 1113.2 547.4 1114.2 546.4" fill="none" stroke="#000" stroke-width="2.0" stroke-linecap="round" clip-path="url(#cpT)"/>
<path d="M1018.8 617.2 C1019.6 617.3 1021.8 617.6 1023.3 617.9 C1024.8 618.1 1026.3 618.5 1027.8 618.7 C1029.3 618.9 1030.8 619.0 1032.4 618.9 C1033.9 618.9 1035.5 618.8 1037.1 618.6 C1038.7 618.4 1040.3 618.1 1041.9 617.7 C1043.6 617.3 1045.3 616.8 1047.0 616.2 C1048.7 615.6 1050.4 614.9 1052.2 614.1 C1053.9 613.4 1055.7 612.5 1057.5 611.6 C1059.4 610.6 1061.2 609.5 1063.1 608.4 C1065.0 607.3 1066.9 606.0 1068.8 604.7 C1070.7 603.4 1072.6 602.1 1074.6 600.7 C1076.5 599.3 1078.5 597.8 1080.4 596.3 C1082.4 594.8 1084.4 593.2 1086.3 591.6 C1088.3 590.0 1090.3 588.3 1092.3 586.6 C1094.3 584.8 1096.3 583.0 1098.4 581.2 C1100.4 579.4 1102.4 577.5 1104.4 575.5 C1106.4 573.5 1109.5 570.4 1110.5 569.4" fill="none" stroke="#000" stroke-width="2.0" stroke-linecap="round" clip-path="url(#cpT)"/>
<path d="M1012.3 637.0 C1013.2 637.1 1015.8 637.3 1017.3 637.6 C1018.8 637.8 1020.0 638.3 1021.4 638.4 C1022.8 638.6 1024.3 638.7 1025.7 638.7 C1027.2 638.7 1028.7 638.6 1030.2 638.4 C1031.7 638.2 1033.3 637.9 1034.9 637.5 C1036.5 637.2 1038.1 636.7 1039.8 636.1 C1041.5 635.6 1043.2 634.9 1045.0 634.2 C1046.7 633.4 1048.5 632.6 1050.3 631.7 C1052.1 630.7 1054.0 629.7 1055.9 628.6 C1057.8 627.5 1059.7 626.3 1061.7 625.0 C1063.7 623.8 1065.6 622.5 1067.6 621.1 C1069.6 619.8 1071.6 618.4 1073.7 616.9 C1075.7 615.4 1077.7 613.9 1079.8 612.4 C1081.8 610.8 1083.9 609.2 1086.0 607.5 C1088.1 605.9 1090.2 604.2 1092.3 602.4 C1094.4 600.6 1096.5 598.8 1098.6 596.9 C1100.7 595.0 1103.9 592.1 1105.0 591.1" fill="none" stroke="#000" stroke-width="2.0" stroke-linecap="round" clip-path="url(#cpT)"/>
<path d="M1004.5 654.2 C1005.4 654.5 1008.3 655.4 1009.8 655.8 C1011.3 656.2 1012.2 656.5 1013.5 656.7 C1014.8 656.8 1016.1 656.9 1017.5 656.9 C1018.9 656.9 1020.3 656.8 1021.7 656.6 C1023.2 656.4 1024.7 656.1 1026.2 655.7 C1027.7 655.4 1029.3 654.9 1031.0 654.4 C1032.6 653.8 1034.3 653.2 1036.0 652.5 C1037.8 651.7 1039.5 650.9 1041.4 650.0 C1043.2 649.1 1045.1 648.1 1047.0 647.1 C1048.9 646.0 1050.9 644.8 1052.9 643.6 C1054.9 642.4 1056.9 641.2 1059.0 639.8 C1061.0 638.5 1063.1 637.2 1065.2 635.8 C1067.2 634.4 1069.3 633.0 1071.5 631.5 C1073.6 630.0 1075.7 628.5 1077.9 626.9 C1080.0 625.3 1082.2 623.7 1084.4 622.0 C1086.6 620.3 1088.8 618.5 1091.0 616.8 C1093.2 615.0 1096.6 612.1 1097.7 611.2" fill="none" stroke="#000" stroke-width="2.0" stroke-linecap="round" clip-path="url(#cpT)"/>
<path d="M994.4 670.4 C995.4 670.7 999.1 672.0 1000.8 672.4 C1002.4 672.9 1002.9 673.0 1004.1 673.2 C1005.3 673.3 1006.5 673.4 1007.7 673.3 C1009.0 673.3 1010.3 673.2 1011.7 673.0 C1013.0 672.8 1014.4 672.5 1015.9 672.1 C1017.4 671.7 1018.9 671.3 1020.5 670.7 C1022.1 670.2 1023.8 669.5 1025.5 668.8 C1027.2 668.1 1029.0 667.3 1030.8 666.5 C1032.6 665.6 1034.5 664.7 1036.5 663.6 C1038.4 662.6 1040.4 661.5 1042.5 660.3 C1044.5 659.1 1046.6 657.9 1048.7 656.7 C1050.7 655.4 1052.9 654.2 1055.0 652.8 C1057.1 651.5 1059.3 650.1 1061.5 648.7 C1063.7 647.3 1065.9 645.9 1068.1 644.4 C1070.3 642.9 1072.6 641.3 1074.8 639.7 C1077.1 638.1 1079.4 636.5 1081.7 634.8 C1084.0 633.1 1087.5 630.4 1088.7 629.6" fill="none" stroke="#000" stroke-width="2.0" stroke-linecap="round" clip-path="url(#cpT)"/>
<path d="M980.6 682.7 C981.4 683.3 983.7 685.9 985.3 686.7 C986.9 687.4 989.0 687.1 990.3 687.3 C991.7 687.5 992.2 687.8 993.2 687.9 C994.3 688.0 995.3 688.0 996.5 687.9 C997.6 687.8 998.8 687.7 1000.1 687.4 C1001.4 687.2 1002.7 686.9 1004.1 686.5 C1005.5 686.1 1007.0 685.6 1008.6 685.0 C1010.1 684.5 1011.7 683.9 1013.4 683.2 C1015.1 682.5 1016.8 681.7 1018.7 680.9 C1020.5 680.0 1022.4 679.1 1024.4 678.1 C1026.3 677.1 1028.4 676.0 1030.5 674.9 C1032.5 673.8 1034.6 672.7 1036.8 671.5 C1038.9 670.3 1041.1 669.1 1043.3 667.8 C1045.5 666.6 1047.7 665.3 1049.9 663.9 C1052.2 662.6 1054.4 661.2 1056.7 659.8 C1059.0 658.4 1061.4 657.0 1063.7 655.5 C1066.0 654.0 1068.4 652.5 1070.8 650.9 C1073.2 649.3 1076.8 646.8 1078.0 646.0" fill="none" stroke="#000" stroke-width="2.0" stroke-linecap="round" clip-path="url(#cpT)"/>
<path d="M968.6 694.4 C969.3 695.2 971.6 698.0 973.2 699.0 C974.9 700.0 977.3 700.0 978.5 700.3 C979.8 700.6 980.1 700.6 981.0 700.6 C981.9 700.7 982.8 700.6 983.9 700.4 C984.9 700.3 986.0 700.1 987.2 699.8 C988.4 699.5 989.6 699.1 990.9 698.7 C992.3 698.3 993.7 697.8 995.2 697.2 C996.7 696.7 998.3 696.0 999.9 695.3 C1001.6 694.6 1003.3 693.9 1005.1 693.0 C1007.0 692.2 1008.9 691.3 1010.8 690.4 C1012.8 689.4 1014.9 688.4 1017.0 687.3 C1019.1 686.3 1021.3 685.2 1023.5 684.1 C1025.6 683.0 1027.8 681.8 1030.1 680.6 C1032.3 679.5 1034.6 678.3 1036.9 677.0 C1039.2 675.8 1041.5 674.5 1043.9 673.2 C1046.2 671.9 1048.6 670.5 1051.0 669.1 C1053.4 667.7 1055.9 666.3 1058.4 664.9 C1060.8 663.4 1064.6 661.1 1065.8 660.3" fill="none" stroke="#000" stroke-width="2.0" stroke-linecap="round" clip-path="url(#cpT)"/>
<path d="M953.3 703.4 C954.3 704.4 957.1 707.8 959.2 709.1 C961.2 710.4 964.1 711.0 965.5 711.3 C966.9 711.7 966.8 711.4 967.5 711.3 C968.3 711.3 969.1 711.1 970.0 710.9 C970.9 710.7 971.9 710.4 973.0 710.0 C974.1 709.6 975.2 709.2 976.5 708.7 C977.8 708.3 979.1 707.7 980.5 707.1 C982.0 706.5 983.5 705.9 985.1 705.2 C986.8 704.5 988.5 703.7 990.3 702.9 C992.1 702.1 994.0 701.3 996.0 700.4 C998.0 699.4 1000.1 698.5 1002.3 697.5 C1004.4 696.5 1006.6 695.5 1008.8 694.4 C1011.0 693.4 1013.3 692.3 1015.5 691.2 C1017.8 690.1 1020.1 689.0 1022.5 687.8 C1024.8 686.7 1027.2 685.5 1029.6 684.3 C1032.1 683.0 1034.5 681.8 1037.0 680.5 C1039.5 679.3 1042.0 677.9 1044.5 676.6 C1047.0 675.3 1050.9 673.2 1052.2 672.5" fill="none" stroke="#000" stroke-width="2.0" stroke-linecap="round" clip-path="url(#cpT)"/>
<path d="M938.4 710.6 C939.4 711.7 942.4 715.6 944.6 717.2 C946.7 718.8 950.0 719.9 951.4 720.3 C952.8 720.7 952.3 720.1 952.9 719.9 C953.5 719.7 946.0 723.0 955.0 719.1 C964.0 715.2 997.0 700.6 1006.9 696.2 C1016.7 691.9 1011.7 694.1 1014.2 693.0 C1016.6 691.9 1019.1 690.7 1021.7 689.6 C1024.2 688.4 1026.8 687.2 1029.4 686.0 C1032.0 684.8 1036.0 682.9 1037.3 682.3" fill="none" stroke="#000" stroke-width="2.0" stroke-linecap="round" clip-path="url(#cpT)"/>
<path d="M831.6 134.2 L840.9 130.7" fill="none" stroke="#000" stroke-width="2.0" stroke-linecap="round" clip-path="url(#cpT)"/>
<path d="M850.0 133.2 L859.4 130.0" fill="none" stroke="#000" stroke-width="2.0" stroke-linecap="round" clip-path="url(#cpT)"/>
<path d="M868.9 134.8 L878.5 131.9" fill="none" stroke="#000" stroke-width="2.0" stroke-linecap="round" clip-path="url(#cpT)"/>
<path d="M888.2 139.0 L898.3 136.2" fill="none" stroke="#000" stroke-width="2.0" stroke-linecap="round" clip-path="url(#cpT)"/>
<path d="M907.7 145.7 L918.2 143.1" fill="none" stroke="#000" stroke-width="2.0" stroke-linecap="round" clip-path="url(#cpT)"/>
<path d="M927.3 154.7 L938.3 152.4" fill="none" stroke="#000" stroke-width="2.0" stroke-linecap="round" clip-path="url(#cpT)"/>
<path d="M946.8 166.1 L958.2 164.0" fill="none" stroke="#000" stroke-width="2.0" stroke-linecap="round" clip-path="url(#cpT)"/>
<path d="M966.1 179.8 L977.8 177.9" fill="none" stroke="#000" stroke-width="2.0" stroke-linecap="round" clip-path="url(#cpT)"/>
<path d="M984.8 195.5 L997.0 193.9" fill="none" stroke="#000" stroke-width="2.0" stroke-linecap="round" clip-path="url(#cpT)"/>
<path d="M1003.0 213.3 L1015.5 211.8" fill="none" stroke="#000" stroke-width="2.0" stroke-linecap="round" clip-path="url(#cpT)"/>
<path d="M1020.3 232.8 L1033.1 231.6" fill="none" stroke="#000" stroke-width="2.0" stroke-linecap="round" clip-path="url(#cpT)"/>
<path d="M1036.8 254.0 L1049.8 253.0" fill="none" stroke="#000" stroke-width="2.0" stroke-linecap="round" clip-path="url(#cpT)"/>
<path d="M1052.1 276.6 L1065.4 275.8" fill="none" stroke="#000" stroke-width="2.0" stroke-linecap="round" clip-path="url(#cpT)"/>
<path d="M1066.2 300.4 L1079.6 299.8" fill="none" stroke="#000" stroke-width="2.0" stroke-linecap="round" clip-path="url(#cpT)"/>
<path d="M1079.1 325.3 L1092.2 324.9" fill="none" stroke="#000" stroke-width="2.0" stroke-linecap="round" clip-path="url(#cpT)"/>
<path d="M1090.5 351.0 L1103.3 350.6" fill="none" stroke="#000" stroke-width="2.0" stroke-linecap="round" clip-path="url(#cpT)"/>
<path d="M1100.3 377.2 L1112.8 377.0" fill="none" stroke="#000" stroke-width="2.0" stroke-linecap="round" clip-path="url(#cpT)"/>
<path d="M1108.4 403.8 L1120.7 403.6" fill="none" stroke="#000" stroke-width="2.0" stroke-linecap="round" clip-path="url(#cpT)"/>
<path d="M1114.8 430.4 L1126.7 430.2" fill="none" stroke="#000" stroke-width="2.0" stroke-linecap="round" clip-path="url(#cpT)"/>
<path d="M1119.4 457.0 L1131.0 456.7" fill="none" stroke="#000" stroke-width="2.0" stroke-linecap="round" clip-path="url(#cpT)"/>
<path d="M1122.1 483.1 L1133.4 482.7" fill="none" stroke="#000" stroke-width="2.0" stroke-linecap="round" clip-path="url(#cpT)"/>
<path d="M1123.0 508.6 L1133.9 508.1" fill="none" stroke="#000" stroke-width="2.0" stroke-linecap="round" clip-path="url(#cpT)"/>
<path d="M1122.0 533.2 L1132.6 532.6" fill="none" stroke="#000" stroke-width="2.0" stroke-linecap="round" clip-path="url(#cpT)"/>
<path d="M1119.1 556.8 L1129.4 556.0" fill="none" stroke="#000" stroke-width="2.0" stroke-linecap="round" clip-path="url(#cpT)"/>
<path d="M1114.3 579.1 L1124.3 578.0" fill="none" stroke="#000" stroke-width="2.0" stroke-linecap="round" clip-path="url(#cpT)"/>
<path d="M1107.8 599.9 L1117.4 598.5" fill="none" stroke="#000" stroke-width="2.0" stroke-linecap="round" clip-path="url(#cpT)"/>
<path d="M1099.5 619.0 L1108.9 617.3" fill="none" stroke="#000" stroke-width="2.0" stroke-linecap="round" clip-path="url(#cpT)"/>
<path d="M1089.5 636.2 L1098.6 634.2" fill="none" stroke="#000" stroke-width="2.0" stroke-linecap="round" clip-path="url(#cpT)"/>
<path d="M1078.0 651.5 L1086.8 649.0" fill="none" stroke="#000" stroke-width="2.0" stroke-linecap="round" clip-path="url(#cpT)"/>
<path d="M1065.0 664.5 L1073.6 661.7" fill="none" stroke="#000" stroke-width="2.0" stroke-linecap="round" clip-path="url(#cpT)"/>
<path d="M1050.6 675.4 L1059.0 672.2" fill="none" stroke="#000" stroke-width="2.0" stroke-linecap="round" clip-path="url(#cpT)"/>
<path d="M859.9 123.7 L880.1 115.7" fill="none" stroke="#000" stroke-width="2.0" stroke-linecap="round" />
<path d="M878.5 123.5 L898.4 115.1" fill="none" stroke="#000" stroke-width="2.0" stroke-linecap="round" />
<path d="M897.6 125.9 L917.4 117.0" fill="none" stroke="#000" stroke-width="2.0" stroke-linecap="round" />
<path d="M917.1 130.9 L936.7 121.3" fill="none" stroke="#000" stroke-width="2.0" stroke-linecap="round" />
<path d="M936.9 138.3 L956.2 128.2" fill="none" stroke="#000" stroke-width="2.0" stroke-linecap="round" />
<path d="M956.6 148.0 L975.9 137.4" fill="none" stroke="#000" stroke-width="2.0" stroke-linecap="round" />
<path d="M976.2 160.2 L995.4 149.0" fill="none" stroke="#000" stroke-width="2.0" stroke-linecap="round" />
<path d="M995.5 174.5 L1014.6 162.8" fill="none" stroke="#000" stroke-width="2.0" stroke-linecap="round" />
<path d="M1014.2 190.9 L1033.3 178.6" fill="none" stroke="#000" stroke-width="2.0" stroke-linecap="round" />
<path d="M1032.3 209.2 L1051.4 196.5" fill="none" stroke="#000" stroke-width="2.0" stroke-linecap="round" />
<path d="M1049.5 229.2 L1068.7 216.0" fill="none" stroke="#000" stroke-width="2.0" stroke-linecap="round" />
<path d="M1065.7 250.9 L1085.0 237.2" fill="none" stroke="#000" stroke-width="2.0" stroke-linecap="round" />
<path d="M1080.8 273.9 L1100.2 259.8" fill="none" stroke="#000" stroke-width="2.0" stroke-linecap="round" />
<path d="M1094.6 298.1 L1114.2 283.7" fill="none" stroke="#000" stroke-width="2.0" stroke-linecap="round" />
<path d="M1107.0 323.3 L1126.8 308.5" fill="none" stroke="#000" stroke-width="2.0" stroke-linecap="round" />
<path d="M1117.9 349.2 L1137.9 334.0" fill="none" stroke="#000" stroke-width="2.0" stroke-linecap="round" />
<path d="M1127.1 375.6 L1147.4 360.2" fill="none" stroke="#000" stroke-width="2.0" stroke-linecap="round" />
<path d="M1134.7 402.2 L1155.2 386.6" fill="none" stroke="#000" stroke-width="2.0" stroke-linecap="round" />
<path d="M1138.7 430.0 L1161.3 413.0" fill="none" stroke="#000" stroke-width="2.0" stroke-linecap="round" />
<path d="M1142.6 456.4 L1165.6 439.3" fill="none" stroke="#000" stroke-width="2.0" stroke-linecap="round" />
<path d="M1144.7 482.4 L1168.1 465.2" fill="none" stroke="#000" stroke-width="2.0" stroke-linecap="round" />
<path d="M1144.9 507.6 L1168.7 490.4" fill="none" stroke="#000" stroke-width="2.0" stroke-linecap="round" />
<path d="M1143.2 531.9 L1167.4 514.8" fill="none" stroke="#000" stroke-width="2.0" stroke-linecap="round" />
<path d="M1139.7 555.0 L1164.3 538.0" fill="none" stroke="#000" stroke-width="2.0" stroke-linecap="round" />
<path d="M1134.3 576.8 L1159.3 559.9" fill="none" stroke="#000" stroke-width="2.0" stroke-linecap="round" />
<path d="M1127.1 597.0 L1152.6 580.4" fill="none" stroke="#000" stroke-width="2.0" stroke-linecap="round" />
<path d="M1118.2 615.5 L1144.2 599.1" fill="none" stroke="#000" stroke-width="2.0" stroke-linecap="round" />
<path d="M1107.7 632.1 L1134.1 615.9" fill="none" stroke="#000" stroke-width="2.0" stroke-linecap="round" />
<path d="M1095.7 646.6 L1122.4 630.8" fill="none" stroke="#000" stroke-width="2.0" stroke-linecap="round" />
<path d="M1082.2 658.9 L1109.3 643.5" fill="none" stroke="#000" stroke-width="2.0" stroke-linecap="round" />
<path d="M1067.4 668.9 L1094.9 653.9" fill="none" stroke="#000" stroke-width="2.0" stroke-linecap="round" />
<path d="M968.3 391.4 C972.5 400.9 976.3 410.6 979.6 420.4 C983.0 430.1 986.0 440.0 988.5 449.9 C991.0 459.7 993.0 469.7 994.6 479.4 C996.2 489.2 997.3 499.0 997.9 508.5 C998.6 518.0 998.7 527.5 998.4 536.6 C998.1 545.7 997.3 554.7 996.0 563.3 C994.8 571.8 993.0 580.1 990.8 588.0 C988.6 595.9 986.0 603.4 982.9 610.4 C979.8 617.5 976.2 624.1 972.3 630.1 C968.4 636.2 964.0 641.8 959.4 646.8 C954.7 651.8 949.6 656.3 944.2 660.1 C938.8 664.0 933.1 667.3 927.1 669.9 C921.1 672.5 914.8 674.6 908.4 675.9 C901.9 677.3 895.1 678.1 888.3 678.2 C881.4 678.2 874.4 677.7 867.2 676.5 C860.1 675.3 852.8 673.4 845.6 671.0 C838.3 668.5 830.9 665.4 823.6 661.7 C816.4 658.1 809.0 653.7 801.9 648.9 C794.7 644.1 787.5 638.6 780.6 632.7 C773.6 626.8 766.7 620.3 760.1 613.4 C753.5 606.5 747.1 599.1 740.9 591.3 C734.8 583.6 728.8 575.3 723.2 566.9 C717.6 558.4 712.3 549.5 707.4 540.5 C702.5 531.4 697.8 522.0 693.7 512.5 C689.5 503.0 685.7 493.3 682.3 483.6 C678.9 473.8 676.0 463.9 673.5 454.1 C671.0 444.2 668.9 434.3 667.3 424.5 C665.8 414.7 664.6 405.0 664.0 395.4 C663.4 385.9 663.2 376.5 663.5 367.3 C663.8 358.2 664.6 349.2 665.9 340.7 C667.2 332.1 668.9 323.8 671.1 315.9 C673.3 308.1 676.0 300.5 679.1 293.5 C682.2 286.5 685.7 279.8 689.6 273.8 C693.5 267.7 697.9 262.1 702.6 257.1 C707.3 252.1 712.4 247.6 717.7 243.8 C723.1 239.9 728.9 236.7 734.8 234.0 C740.8 231.4 747.1 229.4 753.6 228.0 C760.1 226.6 766.8 225.9 773.7 225.8 C780.5 225.7 787.6 226.2 794.7 227.4 C801.8 228.6 809.1 230.5 816.4 232.9 C823.6 235.4 831.0 238.5 838.3 242.2 C845.6 245.9 852.9 250.2 860.1 255.0 C867.3 259.9 874.4 265.3 881.4 271.2 C888.3 277.2 895.2 283.7 901.8 290.5 C908.4 297.4 914.9 304.9 921.0 312.6 C927.2 320.4 933.1 328.6 938.7 337.1 C944.3 345.5 949.6 354.4 954.6 363.5 C959.5 372.5 964.1 381.9 968.3 391.4Z" fill="none" stroke="#000" stroke-width="2.0" stroke-linecap="round" />
<path d="M992.3 581.3 C992.2 581.8 991.7 583.2 991.4 584.2 C991.1 585.1 990.7 586.1 990.4 587.0 C990.0 587.9 989.7 588.8 989.3 589.7 C989.0 590.7 988.6 591.6 988.2 592.5 C987.8 593.4 987.5 594.2 987.1 595.1 C986.7 596.0 986.3 596.9 985.9 597.8 C985.5 598.6 985.1 599.5 984.7 600.3 C984.3 601.2 983.8 602.0 983.4 602.9 C983.0 603.7 982.5 604.5 982.1 605.4 C981.6 606.2 981.2 607.0 980.7 607.8 C980.3 608.6 979.8 609.4 979.3 610.2 C978.9 611.0 978.4 611.8 977.9 612.5 C977.4 613.3 976.9 614.1 976.4 614.8 C975.9 615.6 975.4 616.3 974.9 617.0 C974.4 617.8 973.9 618.5 973.3 619.2 C972.8 619.9 972.3 620.7 971.7 621.4 C971.2 622.1 970.7 622.8 970.1 623.4 C969.6 624.1 969.0 624.8 968.4 625.5 C967.9 626.1 967.3 626.8 966.7 627.4 C966.1 628.1 965.6 628.7 965.0 629.3 C964.4 630.0 963.8 630.6 963.2 631.2 C962.6 631.8 962.0 632.4 961.4 633.0 C960.7 633.6 960.1 634.2 959.5 634.7 C958.9 635.3 958.2 635.9 957.6 636.4 C957.0 637.0 956.3 637.5 955.7 638.1 C955.0 638.6 954.4 639.1 953.7 639.6 C953.1 640.1 952.4 640.7 951.7 641.1 C951.1 641.6 950.4 642.1 949.7 642.6 C949.0 643.1 948.3 643.5 947.6 644.0 C946.9 644.4 946.2 644.9 945.5 645.3 C944.8 645.8 944.1 646.2 943.4 646.6 C942.7 647.0 942.0 647.4 941.3 647.8 C940.5 648.2 939.8 648.6 939.1 649.0 C938.4 649.3 937.6 649.7 936.9 650.0 C936.1 650.4 935.4 650.7 934.6 651.1 C933.9 651.4 933.1 651.7 932.4 652.0 C931.6 652.3 930.8 652.6 930.1 652.9 C929.3 653.2 928.5 653.5 927.8 653.8 C927.0 654.0 926.2 654.3 925.4 654.5 C924.6 654.8 923.8 655.0 923.0 655.2 C922.2 655.5 921.4 655.7 920.6 655.9 C919.8 656.1 919.0 656.3 918.2 656.5 C917.4 656.7 916.6 656.8 915.8 657.0 C915.0 657.2 914.1 657.3 913.3 657.5 C912.5 657.6 911.7 657.7 910.8 657.8 C910.0 658.0 909.2 658.1 908.3 658.2 C907.5 658.3 906.7 658.4 905.8 658.4 C905.0 658.5 904.1 658.6 903.3 658.6 C902.4 658.7 901.6 658.7 900.7 658.8 C899.9 658.8 899.0 658.8 898.1 658.8 C897.3 658.8 896.4 658.8 895.5 658.8 C894.7 658.8 893.8 658.8 892.9 658.8 C892.1 658.7 891.2 658.7 890.3 658.6 C889.4 658.6 888.6 658.5 887.7 658.4 C886.8 658.4 885.9 658.3 885.0 658.2 C884.1 658.1 883.2 658.0 882.4 657.9 C881.5 657.7 880.6 657.6 879.7 657.5 C878.8 657.3 877.9 657.2 877.0 657.0 C876.1 656.9 875.2 656.7 874.3 656.5 C873.4 656.3 872.5 656.1 871.6 655.9 C870.7 655.7 869.8 655.5 868.9 655.3 C868.0 655.1 867.1 654.8 866.2 654.6 C865.3 654.3 864.3 654.1 863.4 653.8 C862.5 653.5 861.6 653.3 860.7 653.0 C859.8 652.7 858.9 652.4 858.0 652.1 C857.0 651.8 856.1 651.5 855.2 651.1 C854.3 650.8 853.4 650.5 852.5 650.1 C851.6 649.7 850.6 649.4 849.7 649.0 C848.8 648.6 847.9 648.3 847.0 647.9 C846.1 647.5 845.1 647.1 844.2 646.7 C843.3 646.3 842.4 645.8 841.5 645.4 C840.6 645.0 839.6 644.5 838.7 644.1 C837.8 643.6 836.9 643.2 836.0 642.7 C835.1 642.2 834.1 641.7 833.2 641.2 C832.3 640.7 831.4 640.2 830.5 639.7 C829.6 639.2 828.7 638.7 827.7 638.2 C826.8 637.6 825.9 637.1 825.0 636.5 C824.1 636.0 823.2 635.4 822.3 634.8 C821.4 634.3 820.5 633.7 819.6 633.1 C818.7 632.5 817.8 631.9 816.9 631.3 C816.0 630.7 815.0 630.1 814.1 629.5 C813.2 628.8 812.4 628.2 811.5 627.5 C810.6 626.9 809.7 626.2 808.8 625.6 C807.9 624.9 807.0 624.2 806.1 623.6 C805.2 622.9 804.3 622.2 803.4 621.5 C802.5 620.8 801.7 620.1 800.8 619.4 C799.9 618.6 799.0 617.9 798.1 617.2 C797.3 616.4 796.4 615.7 795.5 614.9 C794.6 614.2 793.8 613.4 792.9 612.7 C792.0 611.9 791.2 611.1 790.3 610.3 C789.5 609.5 788.6 608.7 787.7 607.9 C786.9 607.1 786.0 606.3 785.2 605.5 C784.3 604.7 783.5 603.9 782.6 603.0 C781.8 602.2 781.0 601.3 780.1 600.5 C779.3 599.6 778.4 598.8 777.6 597.9 C776.8 597.0 776.0 596.2 775.1 595.3 C774.3 594.4 773.5 593.5 772.7 592.6 C771.9 591.7 771.0 590.8 770.2 589.9 C769.4 589.0 768.6 588.1 767.8 587.1 C767.0 586.2 766.2 585.3 765.4 584.3 C764.6 583.4 763.8 582.5 763.0 581.5 C762.3 580.5 761.5 579.6 760.7 578.6 C759.9 577.6 759.2 576.7 758.4 575.7 C757.6 574.7 756.8 573.7 756.1 572.7 C755.3 571.7 754.6 570.7 753.8 569.7 C753.1 568.7 752.3 567.7 751.6 566.7 C750.8 565.7 750.1 564.6 749.4 563.6 C748.6 562.6 747.9 561.5 747.2 560.5 C746.5 559.5 745.7 558.4 745.0 557.3 C744.3 556.3 743.6 555.2 742.9 554.2 C742.2 553.1 741.5 552.0 740.8 551.0 C740.1 549.9 739.4 548.8 738.8 547.7 C738.1 546.6 737.4 545.5 736.7 544.4 C736.1 543.3 735.4 542.2 734.7 541.1 C734.1 540.0 733.4 538.9 732.8 537.8 C732.1 536.7 731.5 535.5 730.8 534.4 C730.2 533.3 729.6 532.2 729.0 531.0 C728.3 529.9 727.7 528.8 727.1 527.6 C726.5 526.5 725.9 525.3 725.3 524.2 C724.7 523.0 724.1 521.9 723.5 520.7 C722.9 519.5 722.3 518.4 721.7 517.2 C721.2 516.1 720.6 514.9 720.0 513.7 C719.5 512.5 718.9 511.4 718.4 510.2 C717.8 509.0 717.3 507.8 716.7 506.6 C716.2 505.4 715.6 504.3 715.1 503.1 C714.6 501.9 714.1 500.7 713.6 499.5 C713.0 498.3 712.5 497.1 712.0 495.9 C711.5 494.7 711.1 493.5 710.6 492.3 C710.1 491.1 709.6 489.8 709.1 488.6 C708.7 487.4 708.2 486.2 707.7 485.0 C707.3 483.8 706.8 482.5 706.4 481.3 C705.9 480.1 705.5 478.9 705.1 477.7 C704.6 476.4 704.2 475.2 703.8 474.0 C703.4 472.8 703.0 471.5 702.6 470.3 C702.2 469.1 701.8 467.8 701.4 466.6 C701.0 465.4 700.6 464.1 700.2 462.9 C699.9 461.7 699.5 460.4 699.1 459.2 C698.8 458.0 698.4 456.7 698.1 455.5 C697.7 454.3 697.4 453.0 697.1 451.8 C696.8 450.6 696.4 449.3 696.1 448.1 C695.8 446.8 695.5 445.6 695.2 444.4 C694.9 443.1 694.6 441.9 694.3 440.7 C694.0 439.4 693.8 438.2 693.5 436.9 C693.2 435.7 693.0 434.5 692.7 433.2 C692.5 432.0 692.2 430.8 692.0 429.5 C691.8 428.3 691.5 427.1 691.3 425.8 C691.1 424.6 690.9 423.4 690.7 422.1 C690.5 420.9 690.3 419.7 690.1 418.5 C689.9 417.2 689.7 416.0 689.5 414.8 C689.3 413.6 689.2 412.3 689.0 411.1 C688.9 409.9 688.7 408.7 688.6 407.5 C688.4 406.2 688.3 405.0 688.2 403.8 C688.0 402.6 687.9 401.4 687.8 400.2 C687.7 399.0 687.6 397.8 687.5 396.6 C687.4 395.4 687.3 394.2 687.2 393.0 C687.1 391.8 687.1 390.6 687.0 389.4 C686.9 388.2 686.9 387.0 686.8 385.8 C686.8 384.6 686.7 383.4 686.7 382.3 C686.7 381.1 686.7 379.9 686.6 378.7 C686.6 377.5 686.6 376.4 686.6 375.2 C686.6 374.0 686.6 372.9 686.6 371.7 C686.7 370.6 686.7 369.4 686.7 368.3 C686.7 367.1 686.8 366.0 686.8 364.8 C686.9 363.7 686.9 362.5 687.0 361.4 C687.1 360.3 687.1 359.1 687.2 358.0 C687.3 356.9 687.4 355.8 687.5 354.6 C687.6 353.5 687.7 352.4 687.8 351.3 C687.9 350.2 688.0 349.1 688.2 348.0 C688.3 346.9 688.4 345.8 688.6 344.7 C688.7 343.6 688.9 342.5 689.0 341.5 C689.2 340.4 689.3 339.3 689.5 338.2 C689.7 337.2 689.9 336.1 690.1 335.1 C690.3 334.0 690.5 333.0 690.7 331.9 C690.9 330.9 691.1 329.8 691.3 328.8 C691.5 327.8 691.8 326.7 692.0 325.7 C692.2 324.7 692.5 323.7 692.7 322.7 C693.0 321.7 693.2 320.7 693.5 319.7 C693.8 318.7 694.1 317.7 694.3 316.7 C694.6 315.7 694.9 314.7 695.2 313.8 C695.5 312.8 695.8 311.8 696.1 310.9 C696.4 309.9 696.8 309.0 697.1 308.0 C697.4 307.1 697.8 306.2 698.1 305.2 C698.4 304.3 698.8 303.4 699.2 302.5 C699.5 301.6 699.9 300.7 700.3 299.8 C700.6 298.9 701.0 298.0 701.4 297.1 C701.8 296.2 702.2 295.3 702.6 294.5 C703.0 293.6 703.4 292.7 703.8 291.9 C704.2 291.0 704.6 290.2 705.1 289.4 C705.5 288.5 705.9 287.7 706.4 286.9 C706.8 286.0 707.3 285.2 707.7 284.4 C708.2 283.6 708.7 282.8 709.1 282.0 C709.6 281.3 710.1 280.5 710.6 279.7 C711.1 278.9 711.6 278.2 712.1 277.4 C712.6 276.7 713.1 275.9 713.6 275.2 C714.1 274.4 714.6 273.7 715.1 273.0 C715.7 272.3 716.2 271.6 716.7 270.9 C717.3 270.2 717.8 269.5 718.4 268.8 C718.9 268.1 719.5 267.4 720.0 266.8 C720.6 266.1 721.2 265.4 721.8 264.8 C722.3 264.2 722.9 263.5 723.5 262.9 C724.1 262.3 724.7 261.6 725.3 261.0 C725.9 260.4 726.5 259.8 727.1 259.2 C727.7 258.6 728.3 258.1 729.0 257.5 C729.6 256.9 730.2 256.3 730.9 255.8 C731.5 255.2 732.1 254.7 732.8 254.2 C733.4 253.6 734.1 253.1 734.8 252.6 C735.4 252.1 736.1 251.6 736.8 251.1 C737.4 250.6 738.1 250.1 738.8 249.6 C739.5 249.2 740.1 248.7 740.8 248.2 C741.5 247.8 742.2 247.3 742.9 246.9 C743.6 246.5 744.3 246.0 745.1 245.6 C745.8 245.2 746.5 244.8 747.2 244.4 C747.9 244.0 748.7 243.6 749.4 243.3 C750.1 242.9 750.9 242.5 751.6 242.2 C752.3 241.8 753.1 241.5 753.8 241.2 C754.6 240.8 755.4 240.5 756.1 240.2 C756.9 239.9 757.6 239.6 758.4 239.3 C759.2 239.0 759.9 238.7 760.7 238.5 C761.5 238.2 762.3 237.9 763.1 237.7 C763.9 237.4 764.6 237.2 765.4 237.0 C766.2 236.8 767.0 236.5 767.8 236.3 C768.6 236.1 769.4 235.9 770.3 235.8 C771.1 235.6 771.9 235.4 772.7 235.2 C773.5 235.1 774.3 234.9 775.2 234.8 C776.0 234.6 776.8 234.5 777.6 234.4 C778.5 234.3 779.3 234.2 780.1 234.1 C781.0 234.0 781.8 233.9 782.7 233.8 C783.5 233.7 784.4 233.7 785.2 233.6 C786.1 233.6 786.9 233.5 787.8 233.5 C788.6 233.4 789.5 233.4 790.3 233.4 C791.2 233.4 792.1 233.4 792.9 233.4 C793.8 233.4 794.7 233.4 795.5 233.5 C796.4 233.5 797.3 233.5 798.2 233.6 C799.0 233.6 799.9 233.7 800.8 233.8 C801.7 233.9 802.6 233.9 803.5 234.0 C804.3 234.1 805.2 234.2 806.1 234.4 C807.0 234.5 807.9 234.6 808.8 234.8 C809.7 234.9 810.6 235.0 811.5 235.2 C812.4 235.4 813.3 235.5 814.2 235.7 C815.1 235.9 816.0 236.1 816.9 236.3 C817.8 236.5 818.7 236.7 819.6 236.9 C820.5 237.2 821.4 237.4 822.3 237.6 C823.2 237.9 824.1 238.2 825.0 238.4 C826.0 238.7 826.9 239.0 827.8 239.3 C828.7 239.5 829.6 239.8 830.5 240.1 C831.4 240.5 832.3 240.8 833.3 241.1 C834.2 241.4 835.1 241.8 836.0 242.1 C836.9 242.5 837.8 242.8 838.7 243.2 C839.7 243.6 840.6 244.0 841.5 244.4 C842.4 244.7 843.8 245.4 844.3 245.6" fill="none" stroke="#000" stroke-width="2.0" stroke-linecap="round" />
<path d="M883.2 428.3 C884.3 430.7 885.2 433.1 886.1 435.6 C886.9 438.0 887.7 440.5 888.3 443.0 C888.9 445.5 889.4 448.0 889.8 450.4 C890.2 452.9 890.5 455.4 890.7 457.8 C890.8 460.2 890.9 462.5 890.8 464.8 C890.7 467.1 890.5 469.4 890.2 471.6 C889.9 473.7 889.4 475.8 888.9 477.8 C888.3 479.8 887.7 481.7 886.9 483.4 C886.1 485.2 885.2 486.9 884.2 488.4 C883.2 489.9 882.1 491.3 881.0 492.6 C879.8 493.9 878.5 495.0 877.1 496.0 C875.8 496.9 874.3 497.8 872.8 498.4 C871.3 499.1 869.7 499.6 868.1 499.9 C866.5 500.3 864.8 500.5 863.1 500.5 C861.3 500.5 859.5 500.4 857.8 500.1 C856.0 499.8 854.1 499.3 852.3 498.7 C850.5 498.1 848.6 497.3 846.8 496.4 C844.9 495.4 843.1 494.4 841.3 493.1 C839.5 491.9 837.7 490.5 835.9 489.1 C834.2 487.6 832.4 485.9 830.8 484.2 C829.1 482.5 827.5 480.6 825.9 478.6 C824.4 476.7 822.9 474.6 821.5 472.5 C820.1 470.3 818.7 468.1 817.5 465.8 C816.2 463.5 815.1 461.2 814.0 458.8 C813.0 456.4 812.0 453.9 811.2 451.5 C810.3 449.0 809.6 446.5 808.9 444.1 C808.3 441.6 807.8 439.1 807.4 436.6 C807.0 434.2 806.7 431.7 806.6 429.3 C806.4 426.9 806.4 424.5 806.4 422.2 C806.5 419.9 806.7 417.7 807.0 415.5 C807.4 413.3 807.8 411.2 808.4 409.3 C808.9 407.3 809.6 405.4 810.4 403.6 C811.1 401.8 812.0 400.2 813.0 398.6 C814.0 397.1 815.1 395.7 816.3 394.5 C817.5 393.2 818.7 392.1 820.1 391.1 C821.5 390.1 822.9 389.3 824.4 388.6 C825.9 388.0 827.5 387.5 829.1 387.1 C830.8 386.8 832.5 386.6 834.2 386.6 C835.9 386.5 837.7 386.7 839.5 387.0 C841.3 387.3 843.1 387.7 844.9 388.4 C846.8 389.0 848.6 389.8 850.5 390.7 C852.3 391.6 854.1 392.7 856.0 393.9 C857.8 395.1 859.6 396.5 861.3 398.0 C863.1 399.5 864.8 401.1 866.5 402.9 C868.1 404.6 869.8 406.5 871.3 408.4 C872.9 410.4 874.4 412.5 875.8 414.6 C877.2 416.7 878.5 419.0 879.7 421.2 C881.0 423.5 882.2 425.9 883.2 428.3Z" fill="none" stroke="#000" stroke-width="1.9" stroke-linecap="round" />
<path d="M869.5 499.9 C868.9 500.1 867.1 500.8 865.8 501.2 C864.5 501.5 863.2 501.7 861.8 501.9 C860.5 502.0 859.1 502.0 857.7 501.9 C856.3 501.8 854.8 501.6 853.4 501.3 C851.9 501.0 850.5 500.6 849.0 500.2 C847.5 499.7 846.1 499.1 844.6 498.4 C843.1 497.7 841.6 496.9 840.2 496.0 C838.7 495.1 837.3 494.1 835.8 493.1 C834.4 492.0 833.0 490.8 831.6 489.6 C830.2 488.4 828.8 487.0 827.5 485.6 C826.1 484.3 824.8 482.8 823.6 481.2 C822.3 479.7 821.1 478.1 819.9 476.5 C818.7 474.8 817.6 473.1 816.5 471.3 C815.5 469.6 814.4 467.7 813.5 465.9 C812.5 464.0 811.6 462.1 810.7 460.2 C809.9 458.3 809.1 456.4 808.4 454.4 C807.7 452.5 807.0 450.5 806.5 448.5 C805.9 446.5 805.4 444.5 805.0 442.5 C804.5 440.5 804.2 438.6 803.9 436.6 C803.6 434.6 803.4 432.7 803.3 430.7 C803.1 428.8 803.1 426.9 803.1 425.1 C803.1 423.2 803.2 421.4 803.4 419.6 C803.6 417.8 803.9 416.1 804.2 414.4 C804.5 412.7 804.9 411.1 805.4 409.5 C805.9 408.0 806.4 406.5 807.1 405.1 C807.7 403.7 808.4 402.3 809.1 401.0 C809.9 399.8 810.7 398.6 811.6 397.5 C812.5 396.4 813.4 395.4 814.5 394.5 C815.5 393.5 816.5 392.7 817.6 392.0 C818.7 391.3 820.5 390.4 821.1 390.1" fill="none" stroke="#000" stroke-width="1.9" stroke-linecap="round" />
<path d="M860.1 438.4 C860.5 439.2 860.8 440.1 861.1 440.9 C861.4 441.7 861.6 442.5 861.8 443.4 C862.1 444.2 862.2 445.0 862.4 445.8 C862.5 446.7 862.6 447.5 862.6 448.3 C862.7 449.1 862.7 449.9 862.7 450.6 C862.7 451.4 862.6 452.2 862.5 452.9 C862.4 453.6 862.2 454.3 862.0 455.0 C861.9 455.6 861.6 456.2 861.4 456.8 C861.1 457.4 860.8 458.0 860.5 458.5 C860.2 459.0 859.8 459.5 859.4 459.9 C859.0 460.3 858.6 460.7 858.1 461.0 C857.7 461.3 857.2 461.6 856.7 461.8 C856.2 462.1 855.7 462.2 855.1 462.3 C854.6 462.5 854.0 462.5 853.4 462.5 C852.9 462.5 852.3 462.5 851.7 462.4 C851.1 462.3 850.5 462.1 849.8 461.9 C849.2 461.7 848.6 461.5 848.0 461.1 C847.4 460.8 846.8 460.5 846.2 460.1 C845.6 459.7 845.0 459.2 844.4 458.7 C843.8 458.2 843.2 457.7 842.7 457.1 C842.1 456.5 841.6 455.9 841.1 455.2 C840.5 454.6 840.0 453.9 839.6 453.2 C839.1 452.5 838.7 451.7 838.2 451.0 C837.8 450.2 837.4 449.4 837.1 448.6 C836.7 447.8 836.4 447.0 836.1 446.2 C835.9 445.4 835.6 444.5 835.4 443.7 C835.2 442.9 835.0 442.0 834.9 441.2 C834.7 440.4 834.7 439.6 834.6 438.8 C834.5 438.0 834.5 437.2 834.6 436.4 C834.6 435.7 834.7 434.9 834.8 434.2 C834.9 433.5 835.0 432.8 835.2 432.1 C835.4 431.4 835.6 430.8 835.9 430.2 C836.1 429.6 836.4 429.1 836.8 428.6 C837.1 428.1 837.4 427.6 837.8 427.2 C838.2 426.8 838.7 426.4 839.1 426.1 C839.6 425.7 840.0 425.5 840.5 425.2 C841.1 425.0 841.6 424.8 842.1 424.7 C842.7 424.6 843.2 424.5 843.8 424.5 C844.4 424.5 845.0 424.6 845.6 424.7 C846.2 424.8 846.8 424.9 847.4 425.1 C848.0 425.3 848.6 425.6 849.2 425.9 C849.8 426.2 850.5 426.6 851.1 427.0 C851.7 427.4 852.3 427.9 852.9 428.4 C853.4 428.9 854.0 429.4 854.6 430.0 C855.1 430.6 855.7 431.2 856.2 431.8 C856.7 432.5 857.2 433.2 857.7 433.9 C858.1 434.6 858.6 435.3 859.0 436.1 C859.4 436.9 859.8 437.6 860.1 438.4Z" fill="none" stroke="#000" stroke-width="1.9" stroke-linecap="round" />
<path d="M882.2 439.1 C882.3 439.4 882.5 439.6 882.6 439.9 C882.6 440.2 882.7 440.5 882.8 440.8 C882.9 441.0 882.9 441.3 883.0 441.6 C883.0 441.9 883.0 442.1 883.1 442.4 C883.1 442.7 883.1 442.9 883.1 443.2 C883.1 443.4 883.0 443.7 883.0 443.9 C883.0 444.2 882.9 444.4 882.9 444.6 C882.8 444.9 882.7 445.1 882.6 445.3 C882.6 445.5 882.5 445.7 882.3 445.8 C882.2 446.0 882.1 446.2 882.0 446.3 C881.8 446.4 881.7 446.6 881.6 446.7 C881.4 446.8 881.2 446.9 881.1 446.9 C880.9 447.0 880.7 447.1 880.5 447.1 C880.4 447.2 880.2 447.2 880.0 447.2 C879.8 447.2 879.6 447.2 879.4 447.1 C879.2 447.1 879.0 447.0 878.8 447.0 C878.6 446.9 878.4 446.8 878.2 446.7 C878.0 446.6 877.8 446.5 877.6 446.4 C877.3 446.2 877.1 446.1 877.0 445.9 C876.8 445.7 876.6 445.5 876.4 445.4 C876.2 445.2 876.0 444.9 875.8 444.7 C875.7 444.5 875.5 444.3 875.3 444.0 C875.2 443.8 875.0 443.6 874.9 443.3 C874.8 443.0 874.6 442.8 874.5 442.5 C874.4 442.2 874.3 442.0 874.2 441.7 C874.1 441.4 874.0 441.1 873.9 440.9 C873.9 440.6 873.8 440.3 873.8 440.0 C873.7 439.8 873.7 439.5 873.7 439.2 C873.7 439.0 873.7 438.7 873.7 438.4 C873.7 438.2 873.7 437.9 873.7 437.7 C873.8 437.4 873.8 437.2 873.9 437.0 C873.9 436.8 874.0 436.6 874.1 436.4 C874.2 436.2 874.3 436.0 874.4 435.8 C874.5 435.6 874.6 435.5 874.8 435.3 C874.9 435.2 875.0 435.1 875.2 435.0 C875.3 434.8 875.5 434.8 875.7 434.7 C875.8 434.6 876.0 434.6 876.2 434.5 C876.4 434.5 876.6 434.5 876.8 434.5 C877.0 434.4 877.1 434.5 877.3 434.5 C877.5 434.5 877.8 434.6 878.0 434.7 C878.2 434.7 878.4 434.8 878.6 434.9 C878.8 435.0 879.0 435.1 879.2 435.3 C879.4 435.4 879.6 435.6 879.8 435.7 C880.0 435.9 880.2 436.1 880.4 436.3 C880.5 436.5 880.7 436.7 880.9 436.9 C881.1 437.1 881.2 437.3 881.4 437.6 C881.6 437.8 881.7 438.1 881.8 438.3 C882.0 438.6 882.1 438.8 882.2 439.1Z" fill="none" stroke="#000" stroke-width="1.8" stroke-linecap="round" />
<path d="M878.2 473.7 C878.3 473.9 878.4 474.2 878.5 474.5 C878.6 474.7 878.7 475.0 878.8 475.3 C878.9 475.6 878.9 475.9 879.0 476.1 C879.0 476.4 879.0 476.7 879.0 476.9 C879.1 477.2 879.1 477.5 879.1 477.7 C879.1 478.0 879.0 478.2 879.0 478.5 C879.0 478.7 878.9 479.0 878.8 479.2 C878.8 479.4 878.7 479.6 878.6 479.8 C878.5 480.0 878.4 480.2 878.3 480.4 C878.2 480.5 878.1 480.7 878.0 480.8 C877.8 481.0 877.7 481.1 877.5 481.2 C877.4 481.3 877.2 481.4 877.1 481.5 C876.9 481.6 876.7 481.6 876.5 481.7 C876.3 481.7 876.2 481.7 876.0 481.7 C875.8 481.7 875.6 481.7 875.4 481.7 C875.2 481.6 875.0 481.6 874.8 481.5 C874.6 481.4 874.4 481.4 874.1 481.3 C873.9 481.2 873.7 481.0 873.5 480.9 C873.3 480.8 873.1 480.6 872.9 480.4 C872.7 480.3 872.5 480.1 872.4 479.9 C872.2 479.7 872.0 479.5 871.8 479.3 C871.6 479.1 871.5 478.8 871.3 478.6 C871.2 478.4 871.0 478.1 870.9 477.8 C870.7 477.6 870.6 477.3 870.5 477.1 C870.4 476.8 870.3 476.5 870.2 476.2 C870.1 476.0 870.0 475.7 869.9 475.4 C869.9 475.1 869.8 474.9 869.7 474.6 C869.7 474.3 869.7 474.0 869.7 473.8 C869.6 473.5 869.6 473.2 869.6 473.0 C869.7 472.7 869.7 472.5 869.7 472.2 C869.7 472.0 869.8 471.8 869.9 471.5 C869.9 471.3 870.0 471.1 870.1 470.9 C870.2 470.7 870.3 470.5 870.4 470.3 C870.5 470.2 870.6 470.0 870.7 469.9 C870.9 469.7 871.0 469.6 871.2 469.5 C871.3 469.4 871.5 469.3 871.6 469.2 C871.8 469.2 872.0 469.1 872.2 469.1 C872.4 469.0 872.5 469.0 872.7 469.0 C872.9 469.0 873.1 469.0 873.3 469.0 C873.5 469.1 873.7 469.1 873.9 469.2 C874.1 469.3 874.4 469.4 874.6 469.5 C874.8 469.6 875.0 469.7 875.2 469.8 C875.4 470.0 875.6 470.1 875.8 470.3 C876.0 470.4 876.2 470.6 876.3 470.8 C876.5 471.0 876.7 471.2 876.9 471.4 C877.1 471.7 877.2 471.9 877.4 472.1 C877.5 472.4 877.7 472.6 877.8 472.9 C878.0 473.1 878.1 473.4 878.2 473.7Z" fill="none" stroke="#000" stroke-width="1.8" stroke-linecap="round" />
<path d="M851.5 475.4 C851.6 475.6 851.7 475.9 851.8 476.2 C851.9 476.5 852.0 476.7 852.0 477.0 C852.1 477.3 852.2 477.6 852.2 477.8 C852.2 478.1 852.3 478.4 852.3 478.7 C852.3 478.9 852.3 479.2 852.3 479.5 C852.3 479.7 852.3 480.0 852.2 480.2 C852.2 480.4 852.2 480.7 852.1 480.9 C852.0 481.1 852.0 481.3 851.9 481.5 C851.8 481.7 851.7 481.9 851.6 482.1 C851.5 482.3 851.3 482.4 851.2 482.6 C851.1 482.7 850.9 482.8 850.8 482.9 C850.6 483.0 850.5 483.1 850.3 483.2 C850.1 483.3 850.0 483.3 849.8 483.4 C849.6 483.4 849.4 483.4 849.2 483.4 C849.0 483.4 848.8 483.4 848.6 483.4 C848.4 483.4 848.2 483.3 848.0 483.2 C847.8 483.2 847.6 483.1 847.4 483.0 C847.2 482.9 847.0 482.7 846.8 482.6 C846.6 482.5 846.4 482.3 846.2 482.2 C846.0 482.0 845.8 481.8 845.6 481.6 C845.4 481.4 845.2 481.2 845.1 481.0 C844.9 480.8 844.7 480.5 844.6 480.3 C844.4 480.1 844.3 479.8 844.1 479.6 C844.0 479.3 843.9 479.0 843.7 478.8 C843.6 478.5 843.5 478.2 843.4 478.0 C843.3 477.7 843.2 477.4 843.2 477.1 C843.1 476.9 843.0 476.6 843.0 476.3 C843.0 476.0 842.9 475.8 842.9 475.5 C842.9 475.2 842.9 475.0 842.9 474.7 C842.9 474.4 842.9 474.2 843.0 473.9 C843.0 473.7 843.0 473.5 843.1 473.2 C843.2 473.0 843.2 472.8 843.3 472.6 C843.4 472.4 843.5 472.2 843.6 472.1 C843.7 471.9 843.9 471.7 844.0 471.6 C844.1 471.5 844.3 471.3 844.4 471.2 C844.6 471.1 844.7 471.0 844.9 470.9 C845.1 470.9 845.2 470.8 845.4 470.8 C845.6 470.7 845.8 470.7 846.0 470.7 C846.2 470.7 846.4 470.7 846.6 470.8 C846.8 470.8 847.0 470.8 847.2 470.9 C847.4 471.0 847.6 471.1 847.8 471.2 C848.0 471.3 848.2 471.4 848.4 471.5 C848.6 471.7 848.8 471.8 849.0 472.0 C849.2 472.2 849.4 472.3 849.6 472.5 C849.8 472.7 850.0 472.9 850.1 473.2 C850.3 473.4 850.5 473.6 850.6 473.8 C850.8 474.1 850.9 474.3 851.1 474.6 C851.2 474.8 851.3 475.1 851.5 475.4Z" fill="none" stroke="#000" stroke-width="1.8" stroke-linecap="round" />
<path d="M828.7 442.5 C828.9 442.8 829.0 443.1 829.1 443.4 C829.1 443.6 829.2 443.9 829.3 444.2 C829.4 444.5 829.4 444.7 829.5 445.0 C829.5 445.3 829.5 445.6 829.6 445.8 C829.6 446.1 829.6 446.4 829.6 446.6 C829.6 446.9 829.5 447.1 829.5 447.4 C829.5 447.6 829.4 447.9 829.4 448.1 C829.3 448.3 829.2 448.5 829.1 448.7 C829.1 448.9 829.0 449.1 828.8 449.3 C828.7 449.4 828.6 449.6 828.5 449.7 C828.3 449.9 828.2 450.0 828.1 450.1 C827.9 450.2 827.7 450.3 827.6 450.4 C827.4 450.5 827.2 450.5 827.0 450.5 C826.9 450.6 826.7 450.6 826.5 450.6 C826.3 450.6 826.1 450.6 825.9 450.6 C825.7 450.5 825.5 450.5 825.3 450.4 C825.1 450.3 824.9 450.3 824.7 450.1 C824.5 450.0 824.3 449.9 824.1 449.8 C823.8 449.7 823.6 449.5 823.5 449.3 C823.3 449.2 823.1 449.0 822.9 448.8 C822.7 448.6 822.5 448.4 822.3 448.2 C822.2 447.9 822.0 447.7 821.8 447.5 C821.7 447.2 821.5 447.0 821.4 446.7 C821.3 446.5 821.1 446.2 821.0 446.0 C820.9 445.7 820.8 445.4 820.7 445.1 C820.6 444.9 820.5 444.6 820.4 444.3 C820.4 444.0 820.3 443.8 820.3 443.5 C820.2 443.2 820.2 442.9 820.2 442.7 C820.2 442.4 820.2 442.1 820.2 441.9 C820.2 441.6 820.2 441.4 820.2 441.1 C820.3 440.9 820.3 440.6 820.4 440.4 C820.4 440.2 820.5 440.0 820.6 439.8 C820.7 439.6 820.8 439.4 820.9 439.2 C821.0 439.1 821.1 438.9 821.3 438.8 C821.4 438.6 821.5 438.5 821.7 438.4 C821.8 438.3 822.0 438.2 822.2 438.1 C822.3 438.0 822.5 438.0 822.7 437.9 C822.9 437.9 823.1 437.9 823.3 437.9 C823.5 437.9 823.7 437.9 823.9 437.9 C824.1 438.0 824.3 438.0 824.5 438.1 C824.7 438.2 824.9 438.2 825.1 438.3 C825.3 438.5 825.5 438.6 825.7 438.7 C825.9 438.8 826.1 439.0 826.3 439.2 C826.5 439.3 826.7 439.5 826.9 439.7 C827.0 439.9 827.2 440.1 827.4 440.3 C827.6 440.5 827.7 440.8 827.9 441.0 C828.1 441.3 828.2 441.5 828.3 441.8 C828.5 442.0 828.6 442.3 828.7 442.5Z" fill="none" stroke="#000" stroke-width="1.8" stroke-linecap="round" />
<path d="M832.7 408.0 C832.9 408.3 833.0 408.5 833.1 408.8 C833.2 409.1 833.2 409.4 833.3 409.6 C833.4 409.9 833.4 410.2 833.5 410.5 C833.5 410.8 833.6 411.0 833.6 411.3 C833.6 411.6 833.6 411.8 833.6 412.1 C833.6 412.3 833.6 412.6 833.5 412.8 C833.5 413.1 833.4 413.3 833.4 413.5 C833.3 413.8 833.2 414.0 833.2 414.2 C833.1 414.4 833.0 414.5 832.9 414.7 C832.8 414.9 832.6 415.0 832.5 415.2 C832.4 415.3 832.2 415.5 832.1 415.6 C831.9 415.7 831.8 415.8 831.6 415.8 C831.4 415.9 831.2 416.0 831.1 416.0 C830.9 416.0 830.7 416.1 830.5 416.1 C830.3 416.1 830.1 416.1 829.9 416.0 C829.7 416.0 829.5 415.9 829.3 415.9 C829.1 415.8 828.9 415.7 828.7 415.6 C828.5 415.5 828.3 415.4 828.1 415.2 C827.9 415.1 827.7 415.0 827.5 414.8 C827.3 414.6 827.1 414.4 826.9 414.2 C826.7 414.0 826.5 413.8 826.4 413.6 C826.2 413.4 826.0 413.2 825.9 412.9 C825.7 412.7 825.6 412.4 825.4 412.2 C825.3 411.9 825.1 411.7 825.0 411.4 C824.9 411.1 824.8 410.9 824.7 410.6 C824.6 410.3 824.5 410.0 824.5 409.8 C824.4 409.5 824.3 409.2 824.3 408.9 C824.2 408.7 824.2 408.4 824.2 408.1 C824.2 407.8 824.2 407.6 824.2 407.3 C824.2 407.1 824.2 406.8 824.2 406.6 C824.3 406.3 824.3 406.1 824.4 405.9 C824.5 405.7 824.5 405.4 824.6 405.2 C824.7 405.0 824.8 404.9 824.9 404.7 C825.0 404.5 825.1 404.4 825.3 404.2 C825.4 404.1 825.6 404.0 825.7 403.8 C825.9 403.7 826.0 403.6 826.2 403.6 C826.4 403.5 826.5 403.4 826.7 403.4 C826.9 403.4 827.1 403.3 827.3 403.3 C827.5 403.3 827.7 403.4 827.9 403.4 C828.1 403.4 828.3 403.5 828.5 403.5 C828.7 403.6 828.9 403.7 829.1 403.8 C829.3 403.9 829.5 404.0 829.7 404.2 C829.9 404.3 830.1 404.5 830.3 404.6 C830.5 404.8 830.7 405.0 830.9 405.2 C831.1 405.4 831.2 405.6 831.4 405.8 C831.6 406.0 831.8 406.2 831.9 406.5 C832.1 406.7 832.2 407.0 832.4 407.2 C832.5 407.5 832.6 407.7 832.7 408.0Z" fill="none" stroke="#000" stroke-width="1.8" stroke-linecap="round" />
<path d="M859.5 406.3 C859.6 406.5 859.7 406.8 859.8 407.1 C859.9 407.4 860.0 407.7 860.1 407.9 C860.1 408.2 860.2 408.5 860.2 408.8 C860.3 409.0 860.3 409.3 860.3 409.6 C860.4 409.8 860.4 410.1 860.3 410.4 C860.3 410.6 860.3 410.9 860.3 411.1 C860.2 411.4 860.2 411.6 860.1 411.8 C860.1 412.0 860.0 412.2 859.9 412.4 C859.8 412.6 859.7 412.8 859.6 413.0 C859.5 413.2 859.4 413.3 859.2 413.5 C859.1 413.6 859.0 413.7 858.8 413.8 C858.7 413.9 858.5 414.0 858.3 414.1 C858.2 414.2 858.0 414.2 857.8 414.3 C857.6 414.3 857.4 414.3 857.2 414.3 C857.1 414.4 856.9 414.3 856.7 414.3 C856.5 414.3 856.3 414.2 856.0 414.1 C855.8 414.1 855.6 414.0 855.4 413.9 C855.2 413.8 855.0 413.7 854.8 413.5 C854.6 413.4 854.4 413.2 854.2 413.1 C854.0 412.9 853.8 412.7 853.6 412.5 C853.5 412.3 853.3 412.1 853.1 411.9 C852.9 411.7 852.8 411.5 852.6 411.2 C852.4 411.0 852.3 410.7 852.2 410.5 C852.0 410.2 851.9 410.0 851.8 409.7 C851.7 409.4 851.6 409.1 851.5 408.9 C851.4 408.6 851.3 408.3 851.2 408.0 C851.1 407.8 851.1 407.5 851.0 407.2 C851.0 406.9 851.0 406.7 850.9 406.4 C850.9 406.1 850.9 405.9 850.9 405.6 C850.9 405.3 851.0 405.1 851.0 404.9 C851.0 404.6 851.1 404.4 851.1 404.2 C851.2 403.9 851.3 403.7 851.4 403.5 C851.5 403.3 851.6 403.1 851.7 403.0 C851.8 402.8 851.9 402.6 852.0 402.5 C852.2 402.4 852.3 402.2 852.5 402.1 C852.6 402.0 852.8 401.9 852.9 401.9 C853.1 401.8 853.3 401.7 853.5 401.7 C853.6 401.6 853.8 401.6 854.0 401.6 C854.2 401.6 854.4 401.6 854.6 401.7 C854.8 401.7 855.0 401.8 855.2 401.8 C855.4 401.9 855.6 402.0 855.8 402.1 C856.0 402.2 856.3 402.3 856.5 402.4 C856.7 402.6 856.9 402.7 857.1 402.9 C857.3 403.1 857.4 403.3 857.6 403.4 C857.8 403.6 858.0 403.8 858.2 404.1 C858.3 404.3 858.5 404.5 858.7 404.8 C858.8 405.0 859.0 405.2 859.1 405.5 C859.3 405.8 859.4 406.0 859.5 406.3Z" fill="none" stroke="#000" stroke-width="1.8" stroke-linecap="round" />
<linearGradient id="gR" gradientUnits="userSpaceOnUse" x1="960.4" y1="717.1" x2="991.4" y2="787.5">
<stop offset="0" stop-color="#fff"/><stop offset="0.44" stop-color="#fff"/><stop offset="0.55" stop-color="#efefef"/><stop offset="0.63" stop-color="#d2d2d2"/><stop offset="0.72" stop-color="#aaaaaa"/><stop offset="0.8" stop-color="#7c7c7c"/><stop offset="0.88" stop-color="#464646"/><stop offset="0.95" stop-color="#181818"/><stop offset="1" stop-color="#000"/></linearGradient>
<path d="M960.4 717.1 L1205.6 608.9 L1208.6 607.9 L1211.8 607.6 L1215.2 607.9 L1218.8 608.7 L1222.3 610.2 L1225.8 612.3 L1229.3 614.9 L1232.6 618.1 L1235.7 621.6 L1238.5 625.6 L1241.1 629.8 L1243.3 634.4 L1245.1 639.0 L1246.6 643.8 L1247.6 648.6 L1248.1 653.3 L1248.2 657.8 L1247.8 662.1 L1246.9 666.1 L1245.7 669.8 L1244.0 672.9 L1241.9 675.6 L1239.4 677.8 L1236.6 679.4 L991.4 787.5Z" fill="url(#gR)" stroke="none" stroke-width="2.0" />
<path d="M960.4 717.1 L1205.6 608.9" fill="none" stroke="#000" stroke-width="2.0" />
<path d="M960.4 717.1 L1205.6 608.9" fill="none" stroke="#000" stroke-width="2.0" />
<path d="M1205.6 608.9 C1206.1 608.8 1207.6 608.2 1208.6 607.9 C1209.6 607.7 1210.7 607.6 1211.8 607.6 C1213.0 607.6 1214.1 607.7 1215.2 607.9 C1216.4 608.1 1217.6 608.4 1218.8 608.7 C1219.9 609.1 1221.1 609.6 1222.3 610.2 C1223.5 610.8 1224.7 611.5 1225.8 612.3 C1227.0 613.1 1228.1 614.0 1229.3 614.9 C1230.4 615.9 1231.5 616.9 1232.6 618.1 C1233.6 619.2 1234.7 620.4 1235.7 621.6 C1236.7 622.9 1237.6 624.2 1238.5 625.6 C1239.4 626.9 1240.3 628.4 1241.1 629.8 C1241.9 631.3 1242.6 632.8 1243.3 634.4 C1244.0 635.9 1244.6 637.5 1245.1 639.0 C1245.7 640.6 1246.2 642.2 1246.6 643.8 C1247.0 645.4 1247.3 647.0 1247.6 648.6 C1247.8 650.2 1248.0 651.7 1248.1 653.3 C1248.2 654.8 1248.2 656.4 1248.2 657.8 C1248.1 659.3 1248.0 660.8 1247.8 662.1 C1247.6 663.5 1247.3 664.9 1246.9 666.1 C1246.6 667.4 1246.2 668.6 1245.7 669.8 C1245.2 670.9 1244.6 672.0 1244.0 672.9 C1243.3 673.9 1242.6 674.8 1241.9 675.6 C1241.1 676.5 1240.3 677.2 1239.4 677.8 C1238.5 678.4 1237.1 679.1 1236.6 679.4" fill="none" stroke="#000" stroke-width="2.0" />
<path d="M1236.6 679.4 L991.4 787.5" fill="none" stroke="#000" stroke-width="2.0" />
<path d="M998.1 742.5 C998.8 744.0 999.4 745.6 999.9 747.2 C1000.5 748.8 1001.0 750.4 1001.4 752.0 C1001.8 753.6 1002.1 755.2 1002.3 756.7 C1002.6 758.3 1002.8 759.9 1002.9 761.4 C1003.0 763.0 1003.0 764.5 1003.0 766.0 C1002.9 767.5 1002.8 768.9 1002.6 770.3 C1002.4 771.7 1002.1 773.0 1001.7 774.3 C1001.4 775.6 1000.9 776.8 1000.5 777.9 C1000.0 779.0 999.4 780.1 998.7 781.1 C998.1 782.1 997.4 783.0 996.7 783.8 C995.9 784.6 995.1 785.3 994.2 785.9 C993.3 786.6 992.4 787.1 991.4 787.5 C990.5 788.0 989.5 788.3 988.4 788.5 C987.4 788.7 986.3 788.8 985.2 788.9 C984.1 788.9 982.9 788.8 981.8 788.6 C980.6 788.4 979.4 788.1 978.3 787.7 C977.1 787.3 975.9 786.8 974.7 786.2 C973.5 785.6 972.4 784.9 971.2 784.1 C970.0 783.3 968.9 782.5 967.8 781.5 C966.6 780.6 965.5 779.5 964.4 778.4 C963.4 777.3 962.3 776.1 961.3 774.8 C960.3 773.6 959.4 772.2 958.5 770.9 C957.6 769.5 956.7 768.1 955.9 766.6 C955.1 765.1 954.4 763.6 953.7 762.1 C953.0 760.6 952.4 759.0 951.9 757.4 C951.3 755.8 950.8 754.2 950.4 752.6 C950.0 751.0 949.7 749.4 949.5 747.9 C949.2 746.3 949.0 744.7 948.9 743.2 C948.8 741.6 948.8 740.1 948.8 738.6 C948.9 737.1 949.0 735.7 949.2 734.3 C949.4 732.9 949.7 731.6 950.1 730.3 C950.4 729.0 950.9 727.8 951.3 726.7 C951.8 725.6 952.4 724.5 953.1 723.5 C953.7 722.5 954.4 721.6 955.1 720.8 C955.9 720.0 956.7 719.3 957.6 718.7 C958.5 718.0 959.4 717.5 960.4 717.1 C961.3 716.6 962.3 716.3 963.4 716.1 C964.4 715.9 965.5 715.8 966.6 715.7 C967.7 715.7 968.9 715.8 970.0 716.0 C971.2 716.2 972.4 716.5 973.5 716.9 C974.7 717.3 975.9 717.8 977.1 718.4 C978.3 719.0 979.4 719.7 980.6 720.5 C981.8 721.3 982.9 722.1 984.0 723.1 C985.2 724.0 986.3 725.1 987.4 726.2 C988.4 727.3 989.5 728.5 990.5 729.8 C991.5 731.0 992.4 732.4 993.3 733.7 C994.2 735.1 995.1 736.5 995.9 738.0 C996.7 739.5 997.4 741.0 998.1 742.5Z" fill="#fff" stroke="#000" stroke-width="2.0" />
<path d="M1079.0 769.3 L1323.3 661.5" fill="none" stroke="#000" stroke-width="2.1" stroke-dasharray="8.6 8.7"/>
<path d="M1110.0 839.7 L1354.3 732.0" fill="none" stroke="#000" stroke-width="2.1" stroke-dasharray="8.6 8.7" stroke-dashoffset="4"/>
<path d="M1323.3 661.5 C1323.8 661.4 1325.2 660.8 1326.3 660.6 C1327.3 660.3 1328.4 660.2 1329.5 660.2 C1330.6 660.2 1331.8 660.3 1332.9 660.5 C1334.1 660.7 1335.3 661.0 1336.4 661.4 C1337.6 661.8 1338.8 662.3 1340.0 662.8 C1341.2 663.4 1342.3 664.1 1343.5 664.9 C1344.7 665.7 1345.8 666.6 1346.9 667.5 C1348.1 668.5 1349.2 669.5 1350.2 670.7 C1351.3 671.8 1352.4 673.0 1353.4 674.2 C1354.3 675.5 1355.3 676.8 1356.2 678.2 C1357.1 679.6 1358.0 681.0 1358.8 682.5 C1359.6 683.9 1360.3 685.4 1361.0 687.0 C1361.7 688.5 1362.3 690.1 1362.8 691.6 C1363.4 693.2 1363.8 694.8 1364.3 696.4 C1364.7 698.0 1365.0 699.6 1365.2 701.2 C1365.5 702.8 1365.7 704.3 1365.8 705.9 C1365.9 707.4 1365.9 709.0 1365.9 710.4 C1365.8 711.9 1365.7 713.4 1365.5 714.7 C1365.3 716.1 1365.0 717.5 1364.6 718.7 C1364.3 720.0 1363.8 721.2 1363.3 722.4 C1362.8 723.5 1362.3 724.6 1361.6 725.6 C1361.0 726.5 1360.3 727.4 1359.5 728.2 C1358.8 729.1 1358.0 729.8 1357.1 730.4 C1356.2 731.0 1354.8 731.7 1354.3 732.0" fill="none" stroke="#000" stroke-width="2.1" stroke-dasharray="8.6 8.7"/>
<path d="M1116.7 794.7 C1117.4 796.2 1118.0 797.8 1118.5 799.4 C1119.1 801.0 1119.6 802.6 1120.0 804.2 C1120.4 805.8 1120.7 807.4 1120.9 808.9 C1121.2 810.5 1121.4 812.1 1121.5 813.6 C1121.6 815.2 1121.6 816.7 1121.6 818.2 C1121.5 819.7 1121.4 821.1 1121.2 822.5 C1121.0 823.9 1120.7 825.2 1120.3 826.5 C1120.0 827.8 1119.5 829.0 1119.1 830.1 C1118.6 831.2 1118.0 832.3 1117.3 833.3 C1116.7 834.3 1116.0 835.2 1115.3 836.0 C1114.5 836.8 1113.7 837.5 1112.8 838.1 C1111.9 838.8 1111.0 839.3 1110.0 839.7 C1109.1 840.2 1108.1 840.5 1107.0 840.7 C1106.0 840.9 1104.9 841.0 1103.8 841.1 C1102.7 841.1 1101.5 841.0 1100.4 840.8 C1099.2 840.6 1098.0 840.3 1096.9 839.9 C1095.7 839.5 1094.5 839.0 1093.3 838.4 C1092.1 837.8 1091.0 837.1 1089.8 836.3 C1088.6 835.5 1087.5 834.7 1086.4 833.7 C1085.2 832.8 1084.1 831.7 1083.0 830.6 C1082.0 829.5 1080.9 828.3 1079.9 827.0 C1078.9 825.8 1078.0 824.4 1077.1 823.1 C1076.2 821.7 1075.3 820.3 1074.5 818.8 C1073.7 817.3 1073.0 815.8 1072.3 814.3 C1071.6 812.8 1071.0 811.2 1070.5 809.6 C1069.9 808.0 1069.4 806.4 1069.0 804.8 C1068.6 803.2 1068.3 801.6 1068.1 800.1 C1067.8 798.5 1067.6 796.9 1067.5 795.4 C1067.4 793.8 1067.4 792.3 1067.4 790.8 C1067.5 789.3 1067.6 787.9 1067.8 786.5 C1068.0 785.1 1068.3 783.8 1068.7 782.5 C1069.0 781.2 1069.5 780.0 1069.9 778.9 C1070.4 777.8 1071.0 776.7 1071.7 775.7 C1072.3 774.7 1073.0 773.8 1073.7 773.0 C1074.5 772.2 1075.3 771.5 1076.2 770.9 C1077.1 770.2 1078.0 769.7 1079.0 769.3 C1079.9 768.8 1080.9 768.5 1082.0 768.3 C1083.0 768.1 1084.1 768.0 1085.2 767.9 C1086.3 767.9 1087.5 768.0 1088.6 768.2 C1089.8 768.4 1091.0 768.7 1092.1 769.1 C1093.3 769.5 1094.5 770.0 1095.7 770.6 C1096.9 771.2 1098.0 771.9 1099.2 772.7 C1100.4 773.5 1101.5 774.3 1102.6 775.3 C1103.8 776.2 1104.9 777.3 1106.0 778.4 C1107.0 779.5 1108.1 780.7 1109.1 782.0 C1110.1 783.2 1111.0 784.6 1111.9 785.9 C1112.8 787.3 1113.7 788.7 1114.5 790.2 C1115.3 791.7 1116.0 793.2 1116.7 794.7Z" fill="none" stroke="#000" stroke-width="2.1" stroke-dasharray="8.6 7.4"/>
<path d="M557.9 523.8 L557.9 759.5" stroke="#29abe2" stroke-width="2.0" fill="none"/>
<path d="M673.9 574.0 L673.9 718.0" stroke="#29abe2" stroke-width="2.0" fill="none"/>
<path d="M948.6 694.5 L948.6 836.3" stroke="#29abe2" stroke-width="2.0" fill="none"/>
<path d="M1067.3 767.5 L1067.3 980.8" stroke="#29abe2" stroke-width="2.0" fill="none"/>
<path d="M673.9 698.9 L774.3 742.6" stroke="#29abe2" stroke-width="2.0" fill="none"/>
<path d="M843.3 773.1 L948.4 819.2" stroke="#29abe2" stroke-width="2.0" fill="none"/>
<path d="M673.9 698.9 L690.9 699.2 L686.4 704.4 L685.6 711.2Z" fill="#29abe2"/>
<path d="M948.4 819.2 L931.4 818.9 L935.9 813.7 L936.7 806.9Z" fill="#29abe2"/>
<path d="M557.9 740.2 L774.3 835.7" stroke="#29abe2" stroke-width="2.0" fill="none"/>
<path d="M843.3 866.1 L1066.8 964.3" stroke="#29abe2" stroke-width="2.0" fill="none"/>
<path d="M557.9 740.2 L574.9 740.5 L570.4 745.7 L569.6 752.6Z" fill="#29abe2"/>
<path d="M1066.8 964.3 L1049.8 964.0 L1054.3 958.8 L1055.1 951.9Z" fill="#29abe2"/>
<path d="M1040.0 815.5 L1248.5 908.9" stroke="#29abe2" stroke-width="2.0" fill="none"/>
<path d="M1350.4 734.4 L1488.9 795.9" stroke="#29abe2" stroke-width="2.0" fill="none"/>
<path d="M1224.1 896.9 L1310.7 858.5" stroke="#29abe2" stroke-width="2.0" fill="none"/>
<path d="M1380.0 827.4 L1470.4 788.9" stroke="#29abe2" stroke-width="2.0" fill="none"/>
<path d="M1224.1 896.9 L1235.8 884.6 L1236.6 891.4 L1241.1 896.6Z" fill="#29abe2"/>
<path d="M1470.4 788.9 L1458.7 801.2 L1457.9 794.4 L1453.4 789.2Z" fill="#29abe2"/>
<path d="M1299.5 259.0 L1602.5 259.0" stroke="#29abe2" stroke-width="2.0" fill="none"/>
<path d="M1300.1 259.1 L1144.9 349.3" stroke="#29abe2" stroke-width="2.0" fill="none"/>
<path d="M1144.9 349.3 L1155.2 335.7 L1156.7 342.4 L1161.8 347.1Z" fill="#29abe2"/>
<circle cx="585.4" cy="520.6" r="4.5" fill="#29abe2" stroke="#fff" stroke-width="1.6"/>
<circle cx="597.1" cy="525.8" r="4.5" fill="#29abe2" stroke="#fff" stroke-width="1.6"/>
<circle cx="608.8" cy="531.0" r="4.5" fill="#29abe2" stroke="#fff" stroke-width="1.6"/>
<circle cx="620.5" cy="536.3" r="4.5" fill="#29abe2" stroke="#fff" stroke-width="1.6"/>
<circle cx="632.1" cy="541.5" r="4.5" fill="#29abe2" stroke="#fff" stroke-width="1.6"/>
<circle cx="643.8" cy="546.7" r="4.5" fill="#29abe2" stroke="#fff" stroke-width="1.6"/>
<circle cx="655.5" cy="552.0" r="4.5" fill="#29abe2" stroke="#fff" stroke-width="1.6"/>
<circle cx="667.2" cy="557.2" r="4.5" fill="#29abe2" stroke="#fff" stroke-width="1.6"/>
<circle cx="678.9" cy="562.4" r="4.5" fill="#29abe2" stroke="#fff" stroke-width="1.6"/>
<path d="M559.2 509.2 L584.4 509.4 L577.5 516.9 L576.6 527.5Z" fill="#29abe2"/>
<circle cx="1040.4" cy="713.9" r="4.5" fill="#29abe2" stroke="#fff" stroke-width="1.6"/>
<circle cx="1052.1" cy="719.1" r="4.5" fill="#29abe2" stroke="#fff" stroke-width="1.6"/>
<circle cx="1063.7" cy="724.4" r="4.5" fill="#29abe2" stroke="#fff" stroke-width="1.6"/>
<circle cx="1075.4" cy="729.6" r="4.5" fill="#29abe2" stroke="#fff" stroke-width="1.6"/>
<circle cx="1087.1" cy="734.8" r="4.5" fill="#29abe2" stroke="#fff" stroke-width="1.6"/>
<circle cx="1098.7" cy="740.1" r="4.5" fill="#29abe2" stroke="#fff" stroke-width="1.6"/>
<circle cx="1110.4" cy="745.3" r="4.5" fill="#29abe2" stroke="#fff" stroke-width="1.6"/>
<circle cx="1122.0" cy="750.6" r="4.5" fill="#29abe2" stroke="#fff" stroke-width="1.6"/>
<circle cx="1133.7" cy="755.8" r="4.5" fill="#29abe2" stroke="#fff" stroke-width="1.6"/>
<path d="M1160.2 767.6 L1135.7 766.8 L1144.9 761.1 L1143.9 749.9Z" fill="#29abe2"/>
<text x="790.4" y="767.0" font-family="Liberation Sans, sans-serif" font-size="32.8" fill="#29abe2" stroke="#29abe2" stroke-width="0.6" textLength="36.6" lengthAdjust="spacingAndGlyphs">250</text>
<text x="790.4" y="860.7" font-family="Liberation Sans, sans-serif" font-size="32.8" fill="#29abe2" stroke="#29abe2" stroke-width="0.6" textLength="36.6" lengthAdjust="spacingAndGlyphs">650</text>
<text x="1326.5" y="854.3" font-family="Liberation Sans, sans-serif" font-size="32.8" fill="#29abe2" stroke="#29abe2" stroke-width="0.6" textLength="37.9" lengthAdjust="spacingAndGlyphs">370</text>
<text x="1303.3" y="242.6" font-family="Liberation Sans, sans-serif" font-size="31.0" fill="#29abe2" stroke="#29abe2" stroke-width="0.6" textLength="58.4" lengthAdjust="spacingAndGlyphs">макс.</text>
<text x="1403.9" y="242.6" font-family="Liberation Sans, sans-serif" font-size="34.0" fill="#29abe2" stroke="#29abe2" stroke-width="0.6" textLength="47.8" lengthAdjust="spacingAndGlyphs">1320</text>
<text x="1476.5" y="242.6" font-family="Liberation Sans, sans-serif" font-size="31.0" fill="#29abe2" stroke="#29abe2" stroke-width="0.6" textLength="47.3" lengthAdjust="spacingAndGlyphs">мин.</text>
<text x="1565.0" y="242.6" font-family="Liberation Sans, sans-serif" font-size="34.0" fill="#29abe2" stroke="#29abe2" stroke-width="0.6" textLength="35.8" lengthAdjust="spacingAndGlyphs">340</text>
<ellipse cx="1384.7" cy="230.7" rx="11.4" ry="10.9" fill="none" stroke="#29abe2" stroke-width="2.1"/>
<path d="M1374.1 242.8 L1395.5 217.8" stroke="#29abe2" stroke-width="2.1" fill="none"/>
<ellipse cx="1547.3" cy="230.7" rx="11.4" ry="10.9" fill="none" stroke="#29abe2" stroke-width="2.1"/>
<path d="M1536.7 242.8 L1558.1 217.8" stroke="#29abe2" stroke-width="2.1" fill="none"/>
<text x="1317.8" y="292.2" font-family="Liberation Sans, sans-serif" font-size="31.5" fill="#29abe2" stroke="#29abe2" stroke-width="0.6" textLength="270.4" lengthAdjust="spacingAndGlyphs">Внешний диаметр шины</text>
</svg>
</body></html>
